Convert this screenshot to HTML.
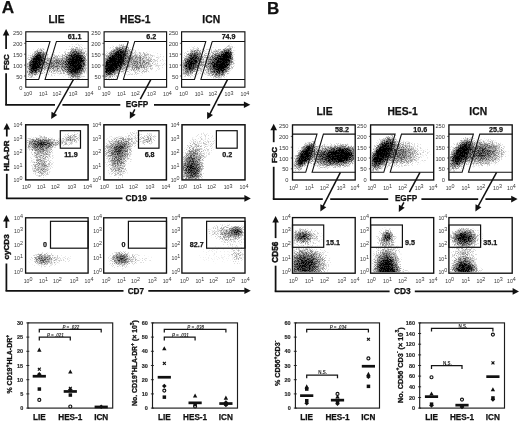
<!DOCTYPE html><html><head><meta charset="utf-8"><title>Figure</title><style>html,body{margin:0;padding:0;background:#fff}svg{display:block}</style></head><body><svg width="520" height="421" viewBox="0 0 520 421" font-family="'Liberation Sans', sans-serif"><defs><filter id="gr" x="0" y="0" width="1" height="1" color-interpolation-filters="sRGB"><feTurbulence type="fractalNoise" baseFrequency="1.37" numOctaves="2" seed="5"/><feColorMatrix type="matrix" values="0 0 0 0 0 0 0 0 0 0 0 0 0 0 0 0 0 0 3 -1" result="n"/><feComposite in="SourceGraphic" in2="n" operator="arithmetic" k1="0" k2="1.3" k3="0.45" k4="-0.45"/><feGaussianBlur stdDeviation="0.3"/></filter><clipPath id="c1"><rect x="26.8" y="32.8" width="60.4" height="53.4"/></clipPath><radialGradient id="g1_0"><stop offset="0" stop-opacity="1"/><stop offset="0.083" stop-opacity="1"/><stop offset="0.167" stop-opacity="1"/><stop offset="0.25" stop-opacity="1"/><stop offset="0.333" stop-opacity="0.977"/><stop offset="0.417" stop-opacity="0.877"/><stop offset="0.5" stop-opacity="0.749"/><stop offset="0.583" stop-opacity="0.593"/><stop offset="0.667" stop-opacity="0.44"/><stop offset="0.75" stop-opacity="0.31"/><stop offset="0.833" stop-opacity="0.212"/><stop offset="0.917" stop-opacity="0.128"/><stop offset="1" stop-opacity="0"/></radialGradient><radialGradient id="g1_1"><stop offset="0" stop-opacity="0.52"/><stop offset="0.083" stop-opacity="0.514"/><stop offset="0.167" stop-opacity="0.495"/><stop offset="0.25" stop-opacity="0.465"/><stop offset="0.333" stop-opacity="0.427"/><stop offset="0.417" stop-opacity="0.381"/><stop offset="0.5" stop-opacity="0.331"/><stop offset="0.583" stop-opacity="0.281"/><stop offset="0.667" stop-opacity="0.233"/><stop offset="0.75" stop-opacity="0.191"/><stop offset="0.833" stop-opacity="0.141"/><stop offset="0.917" stop-opacity="0.107"/><stop offset="1" stop-opacity="0"/></radialGradient><radialGradient id="g1_2"><stop offset="0" stop-opacity="1"/><stop offset="0.083" stop-opacity="1"/><stop offset="0.167" stop-opacity="1"/><stop offset="0.25" stop-opacity="1"/><stop offset="0.333" stop-opacity="1"/><stop offset="0.417" stop-opacity="0.908"/><stop offset="0.5" stop-opacity="0.781"/><stop offset="0.583" stop-opacity="0.621"/><stop offset="0.667" stop-opacity="0.458"/><stop offset="0.75" stop-opacity="0.32"/><stop offset="0.833" stop-opacity="0.216"/><stop offset="0.917" stop-opacity="0.13"/><stop offset="1" stop-opacity="0"/></radialGradient><radialGradient id="g1_3"><stop offset="0" stop-opacity="0.595"/><stop offset="0.083" stop-opacity="0.588"/><stop offset="0.167" stop-opacity="0.565"/><stop offset="0.25" stop-opacity="0.53"/><stop offset="0.333" stop-opacity="0.483"/><stop offset="0.417" stop-opacity="0.428"/><stop offset="0.5" stop-opacity="0.368"/><stop offset="0.583" stop-opacity="0.309"/><stop offset="0.667" stop-opacity="0.251"/><stop offset="0.75" stop-opacity="0.204"/><stop offset="0.833" stop-opacity="0.148"/><stop offset="0.917" stop-opacity="0.109"/><stop offset="1" stop-opacity="0"/></radialGradient><radialGradient id="g1_4"><stop offset="0" stop-opacity="0.56"/><stop offset="0.083" stop-opacity="0.553"/><stop offset="0.167" stop-opacity="0.533"/><stop offset="0.25" stop-opacity="0.5"/><stop offset="0.333" stop-opacity="0.456"/><stop offset="0.417" stop-opacity="0.407"/><stop offset="0.5" stop-opacity="0.351"/><stop offset="0.583" stop-opacity="0.297"/><stop offset="0.667" stop-opacity="0.242"/><stop offset="0.75" stop-opacity="0.2"/><stop offset="0.833" stop-opacity="0.145"/><stop offset="0.917" stop-opacity="0.108"/><stop offset="1" stop-opacity="0"/></radialGradient><clipPath id="c2"><rect x="105.1" y="32.8" width="60.5" height="53.4"/></clipPath><radialGradient id="g2_0"><stop offset="0" stop-opacity="1"/><stop offset="0.083" stop-opacity="1"/><stop offset="0.167" stop-opacity="1"/><stop offset="0.25" stop-opacity="1"/><stop offset="0.333" stop-opacity="1"/><stop offset="0.417" stop-opacity="0.995"/><stop offset="0.5" stop-opacity="0.869"/><stop offset="0.583" stop-opacity="0.699"/><stop offset="0.667" stop-opacity="0.513"/><stop offset="0.75" stop-opacity="0.35"/><stop offset="0.833" stop-opacity="0.229"/><stop offset="0.917" stop-opacity="0.135"/><stop offset="1" stop-opacity="0"/></radialGradient><radialGradient id="g2_1"><stop offset="0" stop-opacity="0.555"/><stop offset="0.083" stop-opacity="0.548"/><stop offset="0.167" stop-opacity="0.528"/><stop offset="0.25" stop-opacity="0.495"/><stop offset="0.333" stop-opacity="0.453"/><stop offset="0.417" stop-opacity="0.404"/><stop offset="0.5" stop-opacity="0.348"/><stop offset="0.583" stop-opacity="0.295"/><stop offset="0.667" stop-opacity="0.241"/><stop offset="0.75" stop-opacity="0.198"/><stop offset="0.833" stop-opacity="0.144"/><stop offset="0.917" stop-opacity="0.108"/><stop offset="1" stop-opacity="0"/></radialGradient><radialGradient id="g2_2"><stop offset="0" stop-opacity="0.454"/><stop offset="0.083" stop-opacity="0.449"/><stop offset="0.167" stop-opacity="0.434"/><stop offset="0.25" stop-opacity="0.41"/><stop offset="0.333" stop-opacity="0.377"/><stop offset="0.417" stop-opacity="0.339"/><stop offset="0.5" stop-opacity="0.299"/><stop offset="0.583" stop-opacity="0.255"/><stop offset="0.667" stop-opacity="0.217"/><stop offset="0.75" stop-opacity="0.176"/><stop offset="0.833" stop-opacity="0.134"/><stop offset="0.917" stop-opacity="0.105"/><stop offset="1" stop-opacity="0"/></radialGradient><radialGradient id="g2_3"><stop offset="0" stop-opacity="0.197"/><stop offset="0.083" stop-opacity="0.196"/><stop offset="0.167" stop-opacity="0.191"/><stop offset="0.25" stop-opacity="0.184"/><stop offset="0.333" stop-opacity="0.174"/><stop offset="0.417" stop-opacity="0.163"/><stop offset="0.5" stop-opacity="0.151"/><stop offset="0.583" stop-opacity="0.138"/><stop offset="0.667" stop-opacity="0.126"/><stop offset="0.75" stop-opacity="0.114"/><stop offset="0.833" stop-opacity="0.103"/><stop offset="0.917" stop-opacity="0.084"/><stop offset="1" stop-opacity="0"/></radialGradient><clipPath id="c3"><rect x="182.6" y="32.8" width="61.3" height="53.4"/></clipPath><radialGradient id="g3_0"><stop offset="0" stop-opacity="0.921"/><stop offset="0.083" stop-opacity="0.909"/><stop offset="0.167" stop-opacity="0.882"/><stop offset="0.25" stop-opacity="0.836"/><stop offset="0.333" stop-opacity="0.764"/><stop offset="0.417" stop-opacity="0.67"/><stop offset="0.5" stop-opacity="0.562"/><stop offset="0.583" stop-opacity="0.45"/><stop offset="0.667" stop-opacity="0.345"/><stop offset="0.75" stop-opacity="0.255"/><stop offset="0.833" stop-opacity="0.185"/><stop offset="0.917" stop-opacity="0.119"/><stop offset="1" stop-opacity="0"/></radialGradient><radialGradient id="g3_1"><stop offset="0" stop-opacity="0.513"/><stop offset="0.083" stop-opacity="0.507"/><stop offset="0.167" stop-opacity="0.488"/><stop offset="0.25" stop-opacity="0.459"/><stop offset="0.333" stop-opacity="0.422"/><stop offset="0.417" stop-opacity="0.376"/><stop offset="0.5" stop-opacity="0.327"/><stop offset="0.583" stop-opacity="0.278"/><stop offset="0.667" stop-opacity="0.231"/><stop offset="0.75" stop-opacity="0.189"/><stop offset="0.833" stop-opacity="0.14"/><stop offset="0.917" stop-opacity="0.107"/><stop offset="1" stop-opacity="0"/></radialGradient><radialGradient id="g3_2"><stop offset="0" stop-opacity="1"/><stop offset="0.083" stop-opacity="1"/><stop offset="0.167" stop-opacity="1"/><stop offset="0.25" stop-opacity="1"/><stop offset="0.333" stop-opacity="0.985"/><stop offset="0.417" stop-opacity="0.886"/><stop offset="0.5" stop-opacity="0.759"/><stop offset="0.583" stop-opacity="0.601"/><stop offset="0.667" stop-opacity="0.445"/><stop offset="0.75" stop-opacity="0.313"/><stop offset="0.833" stop-opacity="0.214"/><stop offset="0.917" stop-opacity="0.129"/><stop offset="1" stop-opacity="0"/></radialGradient><radialGradient id="g3_3"><stop offset="0" stop-opacity="0.885"/><stop offset="0.083" stop-opacity="0.877"/><stop offset="0.167" stop-opacity="0.851"/><stop offset="0.25" stop-opacity="0.8"/><stop offset="0.333" stop-opacity="0.731"/><stop offset="0.417" stop-opacity="0.64"/><stop offset="0.5" stop-opacity="0.537"/><stop offset="0.583" stop-opacity="0.432"/><stop offset="0.667" stop-opacity="0.333"/><stop offset="0.75" stop-opacity="0.249"/><stop offset="0.833" stop-opacity="0.18"/><stop offset="0.917" stop-opacity="0.118"/><stop offset="1" stop-opacity="0"/></radialGradient><radialGradient id="g3_4"><stop offset="0" stop-opacity="0.386"/><stop offset="0.083" stop-opacity="0.382"/><stop offset="0.167" stop-opacity="0.369"/><stop offset="0.25" stop-opacity="0.35"/><stop offset="0.333" stop-opacity="0.325"/><stop offset="0.417" stop-opacity="0.297"/><stop offset="0.5" stop-opacity="0.263"/><stop offset="0.583" stop-opacity="0.23"/><stop offset="0.667" stop-opacity="0.202"/><stop offset="0.75" stop-opacity="0.16"/><stop offset="0.833" stop-opacity="0.127"/><stop offset="0.917" stop-opacity="0.102"/><stop offset="1" stop-opacity="0"/></radialGradient><clipPath id="c4"><rect x="26.7" y="125.8" width="60.4" height="53.1"/></clipPath><radialGradient id="g4_0"><stop offset="0" stop-opacity="0.563"/><stop offset="0.083" stop-opacity="0.556"/><stop offset="0.167" stop-opacity="0.536"/><stop offset="0.25" stop-opacity="0.502"/><stop offset="0.333" stop-opacity="0.459"/><stop offset="0.417" stop-opacity="0.409"/><stop offset="0.5" stop-opacity="0.352"/><stop offset="0.583" stop-opacity="0.298"/><stop offset="0.667" stop-opacity="0.243"/><stop offset="0.75" stop-opacity="0.2"/><stop offset="0.833" stop-opacity="0.145"/><stop offset="0.917" stop-opacity="0.108"/><stop offset="1" stop-opacity="0"/></radialGradient><radialGradient id="g4_1"><stop offset="0" stop-opacity="0.331"/><stop offset="0.083" stop-opacity="0.328"/><stop offset="0.167" stop-opacity="0.319"/><stop offset="0.25" stop-opacity="0.305"/><stop offset="0.333" stop-opacity="0.284"/><stop offset="0.417" stop-opacity="0.26"/><stop offset="0.5" stop-opacity="0.235"/><stop offset="0.583" stop-opacity="0.211"/><stop offset="0.667" stop-opacity="0.181"/><stop offset="0.75" stop-opacity="0.148"/><stop offset="0.833" stop-opacity="0.121"/><stop offset="0.917" stop-opacity="0.1"/><stop offset="1" stop-opacity="0"/></radialGradient><radialGradient id="g4_2"><stop offset="0" stop-opacity="0.292"/><stop offset="0.083" stop-opacity="0.289"/><stop offset="0.167" stop-opacity="0.281"/><stop offset="0.25" stop-opacity="0.269"/><stop offset="0.333" stop-opacity="0.253"/><stop offset="0.417" stop-opacity="0.235"/><stop offset="0.5" stop-opacity="0.216"/><stop offset="0.583" stop-opacity="0.196"/><stop offset="0.667" stop-opacity="0.165"/><stop offset="0.75" stop-opacity="0.138"/><stop offset="0.833" stop-opacity="0.116"/><stop offset="0.917" stop-opacity="0.096"/><stop offset="1" stop-opacity="0"/></radialGradient><radialGradient id="g4_3"><stop offset="0" stop-opacity="0.263"/><stop offset="0.083" stop-opacity="0.261"/><stop offset="0.167" stop-opacity="0.255"/><stop offset="0.25" stop-opacity="0.245"/><stop offset="0.333" stop-opacity="0.233"/><stop offset="0.417" stop-opacity="0.218"/><stop offset="0.5" stop-opacity="0.203"/><stop offset="0.583" stop-opacity="0.179"/><stop offset="0.667" stop-opacity="0.154"/><stop offset="0.75" stop-opacity="0.132"/><stop offset="0.833" stop-opacity="0.113"/><stop offset="0.917" stop-opacity="0.093"/><stop offset="1" stop-opacity="0"/></radialGradient><radialGradient id="g4_4"><stop offset="0" stop-opacity="0.439"/><stop offset="0.083" stop-opacity="0.434"/><stop offset="0.167" stop-opacity="0.42"/><stop offset="0.25" stop-opacity="0.397"/><stop offset="0.333" stop-opacity="0.365"/><stop offset="0.417" stop-opacity="0.329"/><stop offset="0.5" stop-opacity="0.291"/><stop offset="0.583" stop-opacity="0.25"/><stop offset="0.667" stop-opacity="0.214"/><stop offset="0.75" stop-opacity="0.172"/><stop offset="0.833" stop-opacity="0.132"/><stop offset="0.917" stop-opacity="0.104"/><stop offset="1" stop-opacity="0"/></radialGradient><radialGradient id="g4_5"><stop offset="0" stop-opacity="0.242"/><stop offset="0.083" stop-opacity="0.24"/><stop offset="0.167" stop-opacity="0.235"/><stop offset="0.25" stop-opacity="0.228"/><stop offset="0.333" stop-opacity="0.218"/><stop offset="0.417" stop-opacity="0.206"/><stop offset="0.5" stop-opacity="0.189"/><stop offset="0.583" stop-opacity="0.167"/><stop offset="0.667" stop-opacity="0.145"/><stop offset="0.75" stop-opacity="0.126"/><stop offset="0.833" stop-opacity="0.11"/><stop offset="0.917" stop-opacity="0.091"/><stop offset="1" stop-opacity="0"/></radialGradient><clipPath id="c5"><rect x="104.9" y="125.8" width="60.5" height="53.1"/></clipPath><radialGradient id="g5_0"><stop offset="0" stop-opacity="0.591"/><stop offset="0.083" stop-opacity="0.583"/><stop offset="0.167" stop-opacity="0.561"/><stop offset="0.25" stop-opacity="0.526"/><stop offset="0.333" stop-opacity="0.479"/><stop offset="0.417" stop-opacity="0.425"/><stop offset="0.5" stop-opacity="0.366"/><stop offset="0.583" stop-opacity="0.307"/><stop offset="0.667" stop-opacity="0.25"/><stop offset="0.75" stop-opacity="0.204"/><stop offset="0.833" stop-opacity="0.148"/><stop offset="0.917" stop-opacity="0.109"/><stop offset="1" stop-opacity="0"/></radialGradient><radialGradient id="g5_1"><stop offset="0" stop-opacity="0.362"/><stop offset="0.083" stop-opacity="0.359"/><stop offset="0.167" stop-opacity="0.348"/><stop offset="0.25" stop-opacity="0.331"/><stop offset="0.333" stop-opacity="0.309"/><stop offset="0.417" stop-opacity="0.281"/><stop offset="0.5" stop-opacity="0.251"/><stop offset="0.583" stop-opacity="0.222"/><stop offset="0.667" stop-opacity="0.194"/><stop offset="0.75" stop-opacity="0.155"/><stop offset="0.833" stop-opacity="0.124"/><stop offset="0.917" stop-opacity="0.101"/><stop offset="1" stop-opacity="0"/></radialGradient><radialGradient id="g5_2"><stop offset="0" stop-opacity="0.284"/><stop offset="0.083" stop-opacity="0.282"/><stop offset="0.167" stop-opacity="0.274"/><stop offset="0.25" stop-opacity="0.263"/><stop offset="0.333" stop-opacity="0.248"/><stop offset="0.417" stop-opacity="0.231"/><stop offset="0.5" stop-opacity="0.213"/><stop offset="0.583" stop-opacity="0.191"/><stop offset="0.667" stop-opacity="0.162"/><stop offset="0.75" stop-opacity="0.137"/><stop offset="0.833" stop-opacity="0.115"/><stop offset="0.917" stop-opacity="0.096"/><stop offset="1" stop-opacity="0"/></radialGradient><radialGradient id="g5_3"><stop offset="0" stop-opacity="0.389"/><stop offset="0.083" stop-opacity="0.384"/><stop offset="0.167" stop-opacity="0.372"/><stop offset="0.25" stop-opacity="0.352"/><stop offset="0.333" stop-opacity="0.327"/><stop offset="0.417" stop-opacity="0.299"/><stop offset="0.5" stop-opacity="0.264"/><stop offset="0.583" stop-opacity="0.231"/><stop offset="0.667" stop-opacity="0.202"/><stop offset="0.75" stop-opacity="0.161"/><stop offset="0.833" stop-opacity="0.127"/><stop offset="0.917" stop-opacity="0.102"/><stop offset="1" stop-opacity="0"/></radialGradient><radialGradient id="g5_4"><stop offset="0" stop-opacity="0.251"/><stop offset="0.083" stop-opacity="0.249"/><stop offset="0.167" stop-opacity="0.244"/><stop offset="0.25" stop-opacity="0.236"/><stop offset="0.333" stop-opacity="0.224"/><stop offset="0.417" stop-opacity="0.212"/><stop offset="0.5" stop-opacity="0.197"/><stop offset="0.583" stop-opacity="0.172"/><stop offset="0.667" stop-opacity="0.149"/><stop offset="0.75" stop-opacity="0.129"/><stop offset="0.833" stop-opacity="0.111"/><stop offset="0.917" stop-opacity="0.092"/><stop offset="1" stop-opacity="0"/></radialGradient><clipPath id="c6"><rect x="183" y="125.8" width="61" height="53.1"/></clipPath><radialGradient id="g6_0"><stop offset="0" stop-opacity="0.695"/><stop offset="0.083" stop-opacity="0.686"/><stop offset="0.167" stop-opacity="0.661"/><stop offset="0.25" stop-opacity="0.618"/><stop offset="0.333" stop-opacity="0.561"/><stop offset="0.417" stop-opacity="0.493"/><stop offset="0.5" stop-opacity="0.42"/><stop offset="0.583" stop-opacity="0.346"/><stop offset="0.667" stop-opacity="0.277"/><stop offset="0.75" stop-opacity="0.217"/><stop offset="0.833" stop-opacity="0.158"/><stop offset="0.917" stop-opacity="0.112"/><stop offset="1" stop-opacity="0"/></radialGradient><radialGradient id="g6_1"><stop offset="0" stop-opacity="0.321"/><stop offset="0.083" stop-opacity="0.318"/><stop offset="0.167" stop-opacity="0.309"/><stop offset="0.25" stop-opacity="0.296"/><stop offset="0.333" stop-opacity="0.276"/><stop offset="0.417" stop-opacity="0.254"/><stop offset="0.5" stop-opacity="0.23"/><stop offset="0.583" stop-opacity="0.208"/><stop offset="0.667" stop-opacity="0.177"/><stop offset="0.75" stop-opacity="0.145"/><stop offset="0.833" stop-opacity="0.119"/><stop offset="0.917" stop-opacity="0.099"/><stop offset="1" stop-opacity="0"/></radialGradient><radialGradient id="g6_2"><stop offset="0" stop-opacity="0.209"/><stop offset="0.083" stop-opacity="0.208"/><stop offset="0.167" stop-opacity="0.205"/><stop offset="0.25" stop-opacity="0.2"/><stop offset="0.333" stop-opacity="0.189"/><stop offset="0.417" stop-opacity="0.175"/><stop offset="0.5" stop-opacity="0.161"/><stop offset="0.583" stop-opacity="0.146"/><stop offset="0.667" stop-opacity="0.131"/><stop offset="0.75" stop-opacity="0.117"/><stop offset="0.833" stop-opacity="0.105"/><stop offset="0.917" stop-opacity="0.086"/><stop offset="1" stop-opacity="0"/></radialGradient><radialGradient id="g6_3"><stop offset="0" stop-opacity="0.264"/><stop offset="0.083" stop-opacity="0.262"/><stop offset="0.167" stop-opacity="0.256"/><stop offset="0.25" stop-opacity="0.246"/><stop offset="0.333" stop-opacity="0.234"/><stop offset="0.417" stop-opacity="0.219"/><stop offset="0.5" stop-opacity="0.204"/><stop offset="0.583" stop-opacity="0.18"/><stop offset="0.667" stop-opacity="0.155"/><stop offset="0.75" stop-opacity="0.132"/><stop offset="0.833" stop-opacity="0.113"/><stop offset="0.917" stop-opacity="0.093"/><stop offset="1" stop-opacity="0"/></radialGradient><clipPath id="c7"><rect x="26.6" y="218.8" width="60.5" height="53.3"/></clipPath><radialGradient id="g7_0"><stop offset="0" stop-opacity="0.439"/><stop offset="0.083" stop-opacity="0.434"/><stop offset="0.167" stop-opacity="0.42"/><stop offset="0.25" stop-opacity="0.397"/><stop offset="0.333" stop-opacity="0.365"/><stop offset="0.417" stop-opacity="0.329"/><stop offset="0.5" stop-opacity="0.291"/><stop offset="0.583" stop-opacity="0.25"/><stop offset="0.667" stop-opacity="0.214"/><stop offset="0.75" stop-opacity="0.172"/><stop offset="0.833" stop-opacity="0.132"/><stop offset="0.917" stop-opacity="0.104"/><stop offset="1" stop-opacity="0"/></radialGradient><radialGradient id="g7_1"><stop offset="0" stop-opacity="0.262"/><stop offset="0.083" stop-opacity="0.26"/><stop offset="0.167" stop-opacity="0.254"/><stop offset="0.25" stop-opacity="0.244"/><stop offset="0.333" stop-opacity="0.232"/><stop offset="0.417" stop-opacity="0.218"/><stop offset="0.5" stop-opacity="0.203"/><stop offset="0.583" stop-opacity="0.178"/><stop offset="0.667" stop-opacity="0.154"/><stop offset="0.75" stop-opacity="0.131"/><stop offset="0.833" stop-opacity="0.112"/><stop offset="0.917" stop-opacity="0.093"/><stop offset="1" stop-opacity="0"/></radialGradient><radialGradient id="g7_2"><stop offset="0" stop-opacity="0.125"/><stop offset="0.083" stop-opacity="0.125"/><stop offset="0.167" stop-opacity="0.123"/><stop offset="0.25" stop-opacity="0.121"/><stop offset="0.333" stop-opacity="0.119"/><stop offset="0.417" stop-opacity="0.115"/><stop offset="0.5" stop-opacity="0.112"/><stop offset="0.583" stop-opacity="0.107"/><stop offset="0.667" stop-opacity="0.103"/><stop offset="0.75" stop-opacity="0.096"/><stop offset="0.833" stop-opacity="0.085"/><stop offset="0.917" stop-opacity="0.075"/><stop offset="1" stop-opacity="0"/></radialGradient><clipPath id="c8"><rect x="104.7" y="218.8" width="60.8" height="53.3"/></clipPath><radialGradient id="g8_0"><stop offset="0" stop-opacity="0.578"/><stop offset="0.083" stop-opacity="0.571"/><stop offset="0.167" stop-opacity="0.549"/><stop offset="0.25" stop-opacity="0.515"/><stop offset="0.333" stop-opacity="0.47"/><stop offset="0.417" stop-opacity="0.418"/><stop offset="0.5" stop-opacity="0.359"/><stop offset="0.583" stop-opacity="0.303"/><stop offset="0.667" stop-opacity="0.247"/><stop offset="0.75" stop-opacity="0.202"/><stop offset="0.833" stop-opacity="0.146"/><stop offset="0.917" stop-opacity="0.108"/><stop offset="1" stop-opacity="0"/></radialGradient><radialGradient id="g8_1"><stop offset="0" stop-opacity="0.329"/><stop offset="0.083" stop-opacity="0.326"/><stop offset="0.167" stop-opacity="0.318"/><stop offset="0.25" stop-opacity="0.304"/><stop offset="0.333" stop-opacity="0.283"/><stop offset="0.417" stop-opacity="0.259"/><stop offset="0.5" stop-opacity="0.235"/><stop offset="0.583" stop-opacity="0.211"/><stop offset="0.667" stop-opacity="0.18"/><stop offset="0.75" stop-opacity="0.147"/><stop offset="0.833" stop-opacity="0.121"/><stop offset="0.917" stop-opacity="0.1"/><stop offset="1" stop-opacity="0"/></radialGradient><radialGradient id="g8_2"><stop offset="0" stop-opacity="0.131"/><stop offset="0.083" stop-opacity="0.131"/><stop offset="0.167" stop-opacity="0.129"/><stop offset="0.25" stop-opacity="0.127"/><stop offset="0.333" stop-opacity="0.124"/><stop offset="0.417" stop-opacity="0.12"/><stop offset="0.5" stop-opacity="0.115"/><stop offset="0.583" stop-opacity="0.11"/><stop offset="0.667" stop-opacity="0.105"/><stop offset="0.75" stop-opacity="0.1"/><stop offset="0.833" stop-opacity="0.088"/><stop offset="0.917" stop-opacity="0.076"/><stop offset="1" stop-opacity="0"/></radialGradient><clipPath id="c9"><rect x="182.9" y="218.8" width="61.1" height="53.3"/></clipPath><radialGradient id="g9_0"><stop offset="0" stop-opacity="0.708"/><stop offset="0.083" stop-opacity="0.699"/><stop offset="0.167" stop-opacity="0.673"/><stop offset="0.25" stop-opacity="0.63"/><stop offset="0.333" stop-opacity="0.572"/><stop offset="0.417" stop-opacity="0.502"/><stop offset="0.5" stop-opacity="0.427"/><stop offset="0.583" stop-opacity="0.351"/><stop offset="0.667" stop-opacity="0.28"/><stop offset="0.75" stop-opacity="0.219"/><stop offset="0.833" stop-opacity="0.159"/><stop offset="0.917" stop-opacity="0.112"/><stop offset="1" stop-opacity="0"/></radialGradient><radialGradient id="g9_1"><stop offset="0" stop-opacity="0.408"/><stop offset="0.083" stop-opacity="0.403"/><stop offset="0.167" stop-opacity="0.39"/><stop offset="0.25" stop-opacity="0.368"/><stop offset="0.333" stop-opacity="0.341"/><stop offset="0.417" stop-opacity="0.31"/><stop offset="0.5" stop-opacity="0.274"/><stop offset="0.583" stop-opacity="0.238"/><stop offset="0.667" stop-opacity="0.206"/><stop offset="0.75" stop-opacity="0.165"/><stop offset="0.833" stop-opacity="0.129"/><stop offset="0.917" stop-opacity="0.103"/><stop offset="1" stop-opacity="0"/></radialGradient><radialGradient id="g9_2"><stop offset="0" stop-opacity="0.216"/><stop offset="0.083" stop-opacity="0.215"/><stop offset="0.167" stop-opacity="0.211"/><stop offset="0.25" stop-opacity="0.206"/><stop offset="0.333" stop-opacity="0.197"/><stop offset="0.417" stop-opacity="0.183"/><stop offset="0.5" stop-opacity="0.166"/><stop offset="0.583" stop-opacity="0.15"/><stop offset="0.667" stop-opacity="0.134"/><stop offset="0.75" stop-opacity="0.119"/><stop offset="0.833" stop-opacity="0.106"/><stop offset="0.917" stop-opacity="0.087"/><stop offset="1" stop-opacity="0"/></radialGradient><radialGradient id="g9_3"><stop offset="0" stop-opacity="0.279"/><stop offset="0.083" stop-opacity="0.277"/><stop offset="0.167" stop-opacity="0.269"/><stop offset="0.25" stop-opacity="0.258"/><stop offset="0.333" stop-opacity="0.244"/><stop offset="0.417" stop-opacity="0.228"/><stop offset="0.5" stop-opacity="0.211"/><stop offset="0.583" stop-opacity="0.188"/><stop offset="0.667" stop-opacity="0.16"/><stop offset="0.75" stop-opacity="0.135"/><stop offset="0.833" stop-opacity="0.115"/><stop offset="0.917" stop-opacity="0.095"/><stop offset="1" stop-opacity="0"/></radialGradient><radialGradient id="g9_4"><stop offset="0" stop-opacity="0.062"/><stop offset="0.083" stop-opacity="0.062"/><stop offset="0.167" stop-opacity="0.061"/><stop offset="0.25" stop-opacity="0.059"/><stop offset="0.333" stop-opacity="0.057"/><stop offset="0.417" stop-opacity="0.055"/><stop offset="0.5" stop-opacity="0.052"/><stop offset="0.583" stop-opacity="0.049"/><stop offset="0.667" stop-opacity="0.046"/><stop offset="0.75" stop-opacity="0.042"/><stop offset="0.833" stop-opacity="0.038"/><stop offset="0.917" stop-opacity="0.035"/><stop offset="1" stop-opacity="0"/></radialGradient><clipPath id="c10"><rect x="293.5" y="125.9" width="60.7" height="53.1"/></clipPath><radialGradient id="g10_0"><stop offset="0" stop-opacity="1"/><stop offset="0.083" stop-opacity="1"/><stop offset="0.167" stop-opacity="1"/><stop offset="0.25" stop-opacity="0.981"/><stop offset="0.333" stop-opacity="0.905"/><stop offset="0.417" stop-opacity="0.811"/><stop offset="0.5" stop-opacity="0.684"/><stop offset="0.583" stop-opacity="0.542"/><stop offset="0.667" stop-opacity="0.407"/><stop offset="0.75" stop-opacity="0.291"/><stop offset="0.833" stop-opacity="0.205"/><stop offset="0.917" stop-opacity="0.125"/><stop offset="1" stop-opacity="0"/></radialGradient><radialGradient id="g10_1"><stop offset="0" stop-opacity="0.409"/><stop offset="0.083" stop-opacity="0.405"/><stop offset="0.167" stop-opacity="0.392"/><stop offset="0.25" stop-opacity="0.37"/><stop offset="0.333" stop-opacity="0.342"/><stop offset="0.417" stop-opacity="0.311"/><stop offset="0.5" stop-opacity="0.275"/><stop offset="0.583" stop-opacity="0.239"/><stop offset="0.667" stop-opacity="0.207"/><stop offset="0.75" stop-opacity="0.165"/><stop offset="0.833" stop-opacity="0.129"/><stop offset="0.917" stop-opacity="0.103"/><stop offset="1" stop-opacity="0"/></radialGradient><radialGradient id="g10_2"><stop offset="0" stop-opacity="1"/><stop offset="0.083" stop-opacity="1"/><stop offset="0.167" stop-opacity="1"/><stop offset="0.25" stop-opacity="1"/><stop offset="0.333" stop-opacity="0.937"/><stop offset="0.417" stop-opacity="0.838"/><stop offset="0.5" stop-opacity="0.709"/><stop offset="0.583" stop-opacity="0.562"/><stop offset="0.667" stop-opacity="0.419"/><stop offset="0.75" stop-opacity="0.299"/><stop offset="0.833" stop-opacity="0.208"/><stop offset="0.917" stop-opacity="0.126"/><stop offset="1" stop-opacity="0"/></radialGradient><radialGradient id="g10_3"><stop offset="0" stop-opacity="0.5"/><stop offset="0.083" stop-opacity="0.494"/><stop offset="0.167" stop-opacity="0.476"/><stop offset="0.25" stop-opacity="0.448"/><stop offset="0.333" stop-opacity="0.412"/><stop offset="0.417" stop-opacity="0.368"/><stop offset="0.5" stop-opacity="0.321"/><stop offset="0.583" stop-opacity="0.273"/><stop offset="0.667" stop-opacity="0.228"/><stop offset="0.75" stop-opacity="0.186"/><stop offset="0.833" stop-opacity="0.139"/><stop offset="0.917" stop-opacity="0.106"/><stop offset="1" stop-opacity="0"/></radialGradient><radialGradient id="g10_4"><stop offset="0" stop-opacity="0.363"/><stop offset="0.083" stop-opacity="0.359"/><stop offset="0.167" stop-opacity="0.348"/><stop offset="0.25" stop-opacity="0.331"/><stop offset="0.333" stop-opacity="0.309"/><stop offset="0.417" stop-opacity="0.282"/><stop offset="0.5" stop-opacity="0.251"/><stop offset="0.583" stop-opacity="0.223"/><stop offset="0.667" stop-opacity="0.194"/><stop offset="0.75" stop-opacity="0.155"/><stop offset="0.833" stop-opacity="0.124"/><stop offset="0.917" stop-opacity="0.101"/><stop offset="1" stop-opacity="0"/></radialGradient><clipPath id="c11"><rect x="371.6" y="125.9" width="61.1" height="53.1"/></clipPath><radialGradient id="g11_0"><stop offset="0" stop-opacity="1"/><stop offset="0.083" stop-opacity="1"/><stop offset="0.167" stop-opacity="1"/><stop offset="0.25" stop-opacity="1"/><stop offset="0.333" stop-opacity="1"/><stop offset="0.417" stop-opacity="0.918"/><stop offset="0.5" stop-opacity="0.789"/><stop offset="0.583" stop-opacity="0.628"/><stop offset="0.667" stop-opacity="0.463"/><stop offset="0.75" stop-opacity="0.323"/><stop offset="0.833" stop-opacity="0.218"/><stop offset="0.917" stop-opacity="0.13"/><stop offset="1" stop-opacity="0"/></radialGradient><radialGradient id="g11_1"><stop offset="0" stop-opacity="0.533"/><stop offset="0.083" stop-opacity="0.526"/><stop offset="0.167" stop-opacity="0.507"/><stop offset="0.25" stop-opacity="0.476"/><stop offset="0.333" stop-opacity="0.436"/><stop offset="0.417" stop-opacity="0.389"/><stop offset="0.5" stop-opacity="0.337"/><stop offset="0.583" stop-opacity="0.286"/><stop offset="0.667" stop-opacity="0.236"/><stop offset="0.75" stop-opacity="0.193"/><stop offset="0.833" stop-opacity="0.142"/><stop offset="0.917" stop-opacity="0.107"/><stop offset="1" stop-opacity="0"/></radialGradient><radialGradient id="g11_2"><stop offset="0" stop-opacity="0.539"/><stop offset="0.083" stop-opacity="0.532"/><stop offset="0.167" stop-opacity="0.513"/><stop offset="0.25" stop-opacity="0.481"/><stop offset="0.333" stop-opacity="0.44"/><stop offset="0.417" stop-opacity="0.393"/><stop offset="0.5" stop-opacity="0.34"/><stop offset="0.583" stop-opacity="0.288"/><stop offset="0.667" stop-opacity="0.237"/><stop offset="0.75" stop-opacity="0.195"/><stop offset="0.833" stop-opacity="0.142"/><stop offset="0.917" stop-opacity="0.107"/><stop offset="1" stop-opacity="0"/></radialGradient><radialGradient id="g11_3"><stop offset="0" stop-opacity="0.251"/><stop offset="0.083" stop-opacity="0.249"/><stop offset="0.167" stop-opacity="0.244"/><stop offset="0.25" stop-opacity="0.235"/><stop offset="0.333" stop-opacity="0.224"/><stop offset="0.417" stop-opacity="0.211"/><stop offset="0.5" stop-opacity="0.196"/><stop offset="0.583" stop-opacity="0.172"/><stop offset="0.667" stop-opacity="0.149"/><stop offset="0.75" stop-opacity="0.129"/><stop offset="0.833" stop-opacity="0.111"/><stop offset="0.917" stop-opacity="0.092"/><stop offset="1" stop-opacity="0"/></radialGradient><clipPath id="c12"><rect x="449.9" y="125.9" width="61.3" height="53.1"/></clipPath><radialGradient id="g12_0"><stop offset="0" stop-opacity="1"/><stop offset="0.083" stop-opacity="1"/><stop offset="0.167" stop-opacity="1"/><stop offset="0.25" stop-opacity="1"/><stop offset="0.333" stop-opacity="0.975"/><stop offset="0.417" stop-opacity="0.875"/><stop offset="0.5" stop-opacity="0.747"/><stop offset="0.583" stop-opacity="0.592"/><stop offset="0.667" stop-opacity="0.439"/><stop offset="0.75" stop-opacity="0.31"/><stop offset="0.833" stop-opacity="0.212"/><stop offset="0.917" stop-opacity="0.128"/><stop offset="1" stop-opacity="0"/></radialGradient><radialGradient id="g12_1"><stop offset="0" stop-opacity="0.449"/><stop offset="0.083" stop-opacity="0.444"/><stop offset="0.167" stop-opacity="0.429"/><stop offset="0.25" stop-opacity="0.406"/><stop offset="0.333" stop-opacity="0.373"/><stop offset="0.417" stop-opacity="0.336"/><stop offset="0.5" stop-opacity="0.297"/><stop offset="0.583" stop-opacity="0.254"/><stop offset="0.667" stop-opacity="0.216"/><stop offset="0.75" stop-opacity="0.175"/><stop offset="0.833" stop-opacity="0.133"/><stop offset="0.917" stop-opacity="0.104"/><stop offset="1" stop-opacity="0"/></radialGradient><radialGradient id="g12_2"><stop offset="0" stop-opacity="0.647"/><stop offset="0.083" stop-opacity="0.638"/><stop offset="0.167" stop-opacity="0.614"/><stop offset="0.25" stop-opacity="0.575"/><stop offset="0.333" stop-opacity="0.522"/><stop offset="0.417" stop-opacity="0.461"/><stop offset="0.5" stop-opacity="0.395"/><stop offset="0.583" stop-opacity="0.327"/><stop offset="0.667" stop-opacity="0.264"/><stop offset="0.75" stop-opacity="0.211"/><stop offset="0.833" stop-opacity="0.153"/><stop offset="0.917" stop-opacity="0.11"/><stop offset="1" stop-opacity="0"/></radialGradient><radialGradient id="g12_3"><stop offset="0" stop-opacity="0.259"/><stop offset="0.083" stop-opacity="0.257"/><stop offset="0.167" stop-opacity="0.251"/><stop offset="0.25" stop-opacity="0.242"/><stop offset="0.333" stop-opacity="0.23"/><stop offset="0.417" stop-opacity="0.216"/><stop offset="0.5" stop-opacity="0.202"/><stop offset="0.583" stop-opacity="0.177"/><stop offset="0.667" stop-opacity="0.153"/><stop offset="0.75" stop-opacity="0.131"/><stop offset="0.833" stop-opacity="0.112"/><stop offset="0.917" stop-opacity="0.093"/><stop offset="1" stop-opacity="0"/></radialGradient><clipPath id="c13"><rect x="293.5" y="218.6" width="60.7" height="53.6"/></clipPath><radialGradient id="g13_0"><stop offset="0" stop-opacity="0.645"/><stop offset="0.083" stop-opacity="0.637"/><stop offset="0.167" stop-opacity="0.612"/><stop offset="0.25" stop-opacity="0.573"/><stop offset="0.333" stop-opacity="0.521"/><stop offset="0.417" stop-opacity="0.459"/><stop offset="0.5" stop-opacity="0.394"/><stop offset="0.583" stop-opacity="0.327"/><stop offset="0.667" stop-opacity="0.263"/><stop offset="0.75" stop-opacity="0.211"/><stop offset="0.833" stop-opacity="0.153"/><stop offset="0.917" stop-opacity="0.11"/><stop offset="1" stop-opacity="0"/></radialGradient><radialGradient id="g13_1"><stop offset="0" stop-opacity="0.356"/><stop offset="0.083" stop-opacity="0.352"/><stop offset="0.167" stop-opacity="0.342"/><stop offset="0.25" stop-opacity="0.325"/><stop offset="0.333" stop-opacity="0.305"/><stop offset="0.417" stop-opacity="0.277"/><stop offset="0.5" stop-opacity="0.248"/><stop offset="0.583" stop-opacity="0.22"/><stop offset="0.667" stop-opacity="0.191"/><stop offset="0.75" stop-opacity="0.153"/><stop offset="0.833" stop-opacity="0.124"/><stop offset="0.917" stop-opacity="0.101"/><stop offset="1" stop-opacity="0"/></radialGradient><radialGradient id="g13_2"><stop offset="0" stop-opacity="0.822"/><stop offset="0.083" stop-opacity="0.812"/><stop offset="0.167" stop-opacity="0.784"/><stop offset="0.25" stop-opacity="0.737"/><stop offset="0.333" stop-opacity="0.669"/><stop offset="0.417" stop-opacity="0.585"/><stop offset="0.5" stop-opacity="0.493"/><stop offset="0.583" stop-opacity="0.401"/><stop offset="0.667" stop-opacity="0.313"/><stop offset="0.75" stop-opacity="0.237"/><stop offset="0.833" stop-opacity="0.172"/><stop offset="0.917" stop-opacity="0.116"/><stop offset="1" stop-opacity="0"/></radialGradient><radialGradient id="g13_3"><stop offset="0" stop-opacity="0.356"/><stop offset="0.083" stop-opacity="0.352"/><stop offset="0.167" stop-opacity="0.342"/><stop offset="0.25" stop-opacity="0.325"/><stop offset="0.333" stop-opacity="0.305"/><stop offset="0.417" stop-opacity="0.277"/><stop offset="0.5" stop-opacity="0.248"/><stop offset="0.583" stop-opacity="0.22"/><stop offset="0.667" stop-opacity="0.191"/><stop offset="0.75" stop-opacity="0.153"/><stop offset="0.833" stop-opacity="0.124"/><stop offset="0.917" stop-opacity="0.101"/><stop offset="1" stop-opacity="0"/></radialGradient><clipPath id="c14"><rect x="371.6" y="218.6" width="61.1" height="53.6"/></clipPath><radialGradient id="g14_0"><stop offset="0" stop-opacity="0.684"/><stop offset="0.083" stop-opacity="0.675"/><stop offset="0.167" stop-opacity="0.65"/><stop offset="0.25" stop-opacity="0.608"/><stop offset="0.333" stop-opacity="0.552"/><stop offset="0.417" stop-opacity="0.485"/><stop offset="0.5" stop-opacity="0.415"/><stop offset="0.583" stop-opacity="0.341"/><stop offset="0.667" stop-opacity="0.274"/><stop offset="0.75" stop-opacity="0.216"/><stop offset="0.833" stop-opacity="0.157"/><stop offset="0.917" stop-opacity="0.112"/><stop offset="1" stop-opacity="0"/></radialGradient><radialGradient id="g14_1"><stop offset="0" stop-opacity="0.388"/><stop offset="0.083" stop-opacity="0.384"/><stop offset="0.167" stop-opacity="0.371"/><stop offset="0.25" stop-opacity="0.352"/><stop offset="0.333" stop-opacity="0.327"/><stop offset="0.417" stop-opacity="0.299"/><stop offset="0.5" stop-opacity="0.264"/><stop offset="0.583" stop-opacity="0.231"/><stop offset="0.667" stop-opacity="0.202"/><stop offset="0.75" stop-opacity="0.161"/><stop offset="0.833" stop-opacity="0.127"/><stop offset="0.917" stop-opacity="0.102"/><stop offset="1" stop-opacity="0"/></radialGradient><radialGradient id="g14_2"><stop offset="0" stop-opacity="0.98"/><stop offset="0.083" stop-opacity="0.972"/><stop offset="0.167" stop-opacity="0.944"/><stop offset="0.25" stop-opacity="0.89"/><stop offset="0.333" stop-opacity="0.822"/><stop offset="0.417" stop-opacity="0.725"/><stop offset="0.5" stop-opacity="0.607"/><stop offset="0.583" stop-opacity="0.483"/><stop offset="0.667" stop-opacity="0.368"/><stop offset="0.75" stop-opacity="0.268"/><stop offset="0.833" stop-opacity="0.194"/><stop offset="0.917" stop-opacity="0.121"/><stop offset="1" stop-opacity="0"/></radialGradient><radialGradient id="g14_3"><stop offset="0" stop-opacity="0.441"/><stop offset="0.083" stop-opacity="0.436"/><stop offset="0.167" stop-opacity="0.422"/><stop offset="0.25" stop-opacity="0.399"/><stop offset="0.333" stop-opacity="0.367"/><stop offset="0.417" stop-opacity="0.331"/><stop offset="0.5" stop-opacity="0.293"/><stop offset="0.583" stop-opacity="0.251"/><stop offset="0.667" stop-opacity="0.214"/><stop offset="0.75" stop-opacity="0.173"/><stop offset="0.833" stop-opacity="0.133"/><stop offset="0.917" stop-opacity="0.104"/><stop offset="1" stop-opacity="0"/></radialGradient><radialGradient id="g14_4"><stop offset="0" stop-opacity="0.5"/><stop offset="0.083" stop-opacity="0.494"/><stop offset="0.167" stop-opacity="0.476"/><stop offset="0.25" stop-opacity="0.448"/><stop offset="0.333" stop-opacity="0.412"/><stop offset="0.417" stop-opacity="0.368"/><stop offset="0.5" stop-opacity="0.321"/><stop offset="0.583" stop-opacity="0.273"/><stop offset="0.667" stop-opacity="0.228"/><stop offset="0.75" stop-opacity="0.186"/><stop offset="0.833" stop-opacity="0.139"/><stop offset="0.917" stop-opacity="0.106"/><stop offset="1" stop-opacity="0"/></radialGradient><clipPath id="c15"><rect x="449.9" y="218.6" width="61.3" height="53.6"/></clipPath><radialGradient id="g15_0"><stop offset="0" stop-opacity="0.9"/><stop offset="0.083" stop-opacity="0.893"/><stop offset="0.167" stop-opacity="0.868"/><stop offset="0.25" stop-opacity="0.819"/><stop offset="0.333" stop-opacity="0.748"/><stop offset="0.417" stop-opacity="0.656"/><stop offset="0.5" stop-opacity="0.55"/><stop offset="0.583" stop-opacity="0.441"/><stop offset="0.667" stop-opacity="0.339"/><stop offset="0.75" stop-opacity="0.252"/><stop offset="0.833" stop-opacity="0.183"/><stop offset="0.917" stop-opacity="0.119"/><stop offset="1" stop-opacity="0"/></radialGradient><radialGradient id="g15_1"><stop offset="0" stop-opacity="0.352"/><stop offset="0.083" stop-opacity="0.349"/><stop offset="0.167" stop-opacity="0.338"/><stop offset="0.25" stop-opacity="0.322"/><stop offset="0.333" stop-opacity="0.302"/><stop offset="0.417" stop-opacity="0.275"/><stop offset="0.5" stop-opacity="0.246"/><stop offset="0.583" stop-opacity="0.219"/><stop offset="0.667" stop-opacity="0.19"/><stop offset="0.75" stop-opacity="0.153"/><stop offset="0.833" stop-opacity="0.123"/><stop offset="0.917" stop-opacity="0.101"/><stop offset="1" stop-opacity="0"/></radialGradient><radialGradient id="g15_2"><stop offset="0" stop-opacity="0.888"/><stop offset="0.083" stop-opacity="0.88"/><stop offset="0.167" stop-opacity="0.853"/><stop offset="0.25" stop-opacity="0.803"/><stop offset="0.333" stop-opacity="0.733"/><stop offset="0.417" stop-opacity="0.643"/><stop offset="0.5" stop-opacity="0.539"/><stop offset="0.583" stop-opacity="0.433"/><stop offset="0.667" stop-opacity="0.334"/><stop offset="0.75" stop-opacity="0.249"/><stop offset="0.833" stop-opacity="0.181"/><stop offset="0.917" stop-opacity="0.118"/><stop offset="1" stop-opacity="0"/></radialGradient><radialGradient id="g15_3"><stop offset="0" stop-opacity="0.396"/><stop offset="0.083" stop-opacity="0.391"/><stop offset="0.167" stop-opacity="0.378"/><stop offset="0.25" stop-opacity="0.358"/><stop offset="0.333" stop-opacity="0.332"/><stop offset="0.417" stop-opacity="0.303"/><stop offset="0.5" stop-opacity="0.268"/><stop offset="0.583" stop-opacity="0.234"/><stop offset="0.667" stop-opacity="0.204"/><stop offset="0.75" stop-opacity="0.162"/><stop offset="0.833" stop-opacity="0.128"/><stop offset="0.917" stop-opacity="0.103"/><stop offset="1" stop-opacity="0"/></radialGradient><radialGradient id="g15_4"><stop offset="0" stop-opacity="0.356"/><stop offset="0.083" stop-opacity="0.352"/><stop offset="0.167" stop-opacity="0.342"/><stop offset="0.25" stop-opacity="0.325"/><stop offset="0.333" stop-opacity="0.305"/><stop offset="0.417" stop-opacity="0.277"/><stop offset="0.5" stop-opacity="0.248"/><stop offset="0.583" stop-opacity="0.22"/><stop offset="0.667" stop-opacity="0.191"/><stop offset="0.75" stop-opacity="0.153"/><stop offset="0.833" stop-opacity="0.124"/><stop offset="0.917" stop-opacity="0.101"/><stop offset="1" stop-opacity="0"/></radialGradient></defs><text x="1.8" y="13.4" font-size="17.2" font-weight="bold" fill="#111" stroke="#111" stroke-width="0.25">A</text>
<text x="267" y="14.1" font-size="17.0" font-weight="bold" fill="#111" stroke="#111" stroke-width="0.25">B</text>
<text x="56.6" y="23.3" font-size="10.3" font-weight="bold" text-anchor="middle" fill="#111" stroke="#111" stroke-width="0.25">LIE</text>
<text x="135.2" y="23.3" font-size="10.3" font-weight="bold" text-anchor="middle" fill="#111" stroke="#111" stroke-width="0.25">HES-1</text>
<text x="211.2" y="23.3" font-size="10.3" font-weight="bold" text-anchor="middle" fill="#111" stroke="#111" stroke-width="0.25">ICN</text>
<text x="324.6" y="115" font-size="10.3" font-weight="bold" text-anchor="middle" fill="#111" stroke="#111" stroke-width="0.25">LIE</text>
<text x="402.6" y="115" font-size="10.3" font-weight="bold" text-anchor="middle" fill="#111" stroke="#111" stroke-width="0.25">HES-1</text>
<text x="478.2" y="115" font-size="10.3" font-weight="bold" text-anchor="middle" fill="#111" stroke="#111" stroke-width="0.25">ICN</text>
<text x="22.5" y="89.5" font-size="5.7" text-anchor="end" fill="#383838">0</text>
<text x="22.5" y="78.6" font-size="5.7" text-anchor="end" fill="#383838">50</text>
<path d="M24.1 76L25.8 76" stroke="#333" stroke-width="0.8" fill="none"/>
<text x="22.5" y="67.8" font-size="5.7" text-anchor="end" fill="#383838">100</text>
<path d="M24.1 65.1L25.8 65.1" stroke="#333" stroke-width="0.8" fill="none"/>
<text x="22.5" y="56.8" font-size="5.7" text-anchor="end" fill="#383838">150</text>
<path d="M24.1 54.2L25.8 54.2" stroke="#333" stroke-width="0.8" fill="none"/>
<text x="22.5" y="45.9" font-size="5.7" text-anchor="end" fill="#383838">200</text>
<path d="M24.1 43.3L25.8 43.3" stroke="#333" stroke-width="0.8" fill="none"/>
<text x="22.5" y="35" font-size="5.7" text-anchor="end" fill="#383838">250</text>
<text x="23.4" y="96.4" font-size="5.2" fill="#383838">10<tspan dy="-1.7" font-size="5.4">0</tspan></text>
<text x="38.9" y="96.4" font-size="5.2" fill="#383838">10<tspan dy="-1.7" font-size="5.4">1</tspan></text>
<text x="52.6" y="96.4" font-size="5.2" fill="#383838">10<tspan dy="-1.7" font-size="5.4">2</tspan></text>
<text x="68.8" y="96.4" font-size="5.2" fill="#383838">10<tspan dy="-1.7" font-size="5.4">3</tspan></text>
<text x="84.7" y="96.4" font-size="5.2" fill="#383838">10<tspan dy="-1.7" font-size="5.4">4</tspan></text>
<text x="100.8" y="89.5" font-size="5.7" text-anchor="end" fill="#383838">0</text>
<text x="100.8" y="78.6" font-size="5.7" text-anchor="end" fill="#383838">50</text>
<path d="M102.4 76L104.1 76" stroke="#333" stroke-width="0.8" fill="none"/>
<text x="100.8" y="67.8" font-size="5.7" text-anchor="end" fill="#383838">100</text>
<path d="M102.4 65.1L104.1 65.1" stroke="#333" stroke-width="0.8" fill="none"/>
<text x="100.8" y="56.8" font-size="5.7" text-anchor="end" fill="#383838">150</text>
<path d="M102.4 54.2L104.1 54.2" stroke="#333" stroke-width="0.8" fill="none"/>
<text x="100.8" y="45.9" font-size="5.7" text-anchor="end" fill="#383838">200</text>
<path d="M102.4 43.3L104.1 43.3" stroke="#333" stroke-width="0.8" fill="none"/>
<text x="100.8" y="35" font-size="5.7" text-anchor="end" fill="#383838">250</text>
<text x="101.7" y="96.4" font-size="5.2" fill="#383838">10<tspan dy="-1.7" font-size="5.4">0</tspan></text>
<text x="117.2" y="96.4" font-size="5.2" fill="#383838">10<tspan dy="-1.7" font-size="5.4">1</tspan></text>
<text x="130.9" y="96.4" font-size="5.2" fill="#383838">10<tspan dy="-1.7" font-size="5.4">2</tspan></text>
<text x="147.1" y="96.4" font-size="5.2" fill="#383838">10<tspan dy="-1.7" font-size="5.4">3</tspan></text>
<text x="163" y="96.4" font-size="5.2" fill="#383838">10<tspan dy="-1.7" font-size="5.4">4</tspan></text>
<text x="178.3" y="89.5" font-size="5.7" text-anchor="end" fill="#383838">0</text>
<text x="178.3" y="78.6" font-size="5.7" text-anchor="end" fill="#383838">50</text>
<path d="M179.9 76L181.6 76" stroke="#333" stroke-width="0.8" fill="none"/>
<text x="178.3" y="67.8" font-size="5.7" text-anchor="end" fill="#383838">100</text>
<path d="M179.9 65.1L181.6 65.1" stroke="#333" stroke-width="0.8" fill="none"/>
<text x="178.3" y="56.8" font-size="5.7" text-anchor="end" fill="#383838">150</text>
<path d="M179.9 54.2L181.6 54.2" stroke="#333" stroke-width="0.8" fill="none"/>
<text x="178.3" y="45.9" font-size="5.7" text-anchor="end" fill="#383838">200</text>
<path d="M179.9 43.3L181.6 43.3" stroke="#333" stroke-width="0.8" fill="none"/>
<text x="178.3" y="35" font-size="5.7" text-anchor="end" fill="#383838">250</text>
<text x="179.2" y="96.4" font-size="5.2" fill="#383838">10<tspan dy="-1.7" font-size="5.4">0</tspan></text>
<text x="194.7" y="96.4" font-size="5.2" fill="#383838">10<tspan dy="-1.7" font-size="5.4">1</tspan></text>
<text x="208.4" y="96.4" font-size="5.2" fill="#383838">10<tspan dy="-1.7" font-size="5.4">2</tspan></text>
<text x="224.6" y="96.4" font-size="5.2" fill="#383838">10<tspan dy="-1.7" font-size="5.4">3</tspan></text>
<text x="240.5" y="96.4" font-size="5.2" fill="#383838">10<tspan dy="-1.7" font-size="5.4">4</tspan></text>
<g clip-path="url(#c1)"><g filter="url(#gr)">
<rect x="20.8" y="26.8" width="72.4" height="65.4" fill="#000" fill-opacity="0"/>
<ellipse cx="36.3" cy="63" rx="8" ry="17.4" fill="url(#g1_0)" transform="rotate(25.8 36.3 63)"/>
<ellipse cx="36.5" cy="63" rx="11.4" ry="16.9" fill="url(#g1_1)" transform="rotate(22.9 36.5 63)"/>
<ellipse cx="75.8" cy="63.5" rx="11.6" ry="17.6" fill="url(#g1_2)" transform="rotate(5.7 75.8 63.5)"/>
<ellipse cx="76" cy="62.5" rx="15.5" ry="19.8" fill="url(#g1_3)" transform="rotate(5.7 76 62.5)"/>
<ellipse cx="57" cy="64.5" rx="30.5" ry="12.8" fill="url(#g1_4)"/>
</g></g>
<rect x="25.8" y="31.8" width="62.4" height="55.4" fill="none" stroke="#111" stroke-width="1.15"/>
<path d="M25.8 41.5L50 41.5L38.7 79.4L25.8 79.4" stroke="#111" stroke-width="1.05" fill="none"/>
<path d="M88.2 41.5L56.4 41.5L45.1 79.4L88.2 79.4" stroke="#111" stroke-width="1.05" fill="none"/>
<text x="74.6" y="38.8" font-size="7.15" font-weight="bold" text-anchor="middle" fill="#111" stroke="#111" stroke-width="0.25">61.1</text>
<g clip-path="url(#c2)"><g filter="url(#gr)">
<rect x="99.1" y="26.8" width="72.5" height="65.4" fill="#000" fill-opacity="0"/>
<ellipse cx="114.5" cy="62" rx="10.9" ry="23.6" fill="url(#g2_0)" transform="rotate(40.1 114.5 62)"/>
<ellipse cx="115" cy="62" rx="15.2" ry="20.8" fill="url(#g2_1)" transform="rotate(34.4 115 62)"/>
<ellipse cx="134" cy="62.5" rx="20.9" ry="14.4" fill="url(#g2_2)"/>
<ellipse cx="148" cy="62" rx="20.1" ry="11" fill="url(#g2_3)"/>
</g></g>
<rect x="104.1" y="31.8" width="62.5" height="55.4" fill="none" stroke="#111" stroke-width="1.15"/>
<path d="M104.1 41.5L128.3 41.5L117 79.4L104.1 79.4" stroke="#111" stroke-width="1.05" fill="none"/>
<path d="M166.6 41.5L134.7 41.5L123.4 79.4L166.6 79.4" stroke="#111" stroke-width="1.05" fill="none"/>
<text x="151.3" y="38.8" font-size="7.15" font-weight="bold" text-anchor="middle" fill="#111" stroke="#111" stroke-width="0.25">6.2</text>
<g clip-path="url(#c3)"><g filter="url(#gr)">
<rect x="176.6" y="26.8" width="73.3" height="65.4" fill="#000" fill-opacity="0"/>
<ellipse cx="191.5" cy="62.5" rx="9" ry="17" fill="url(#g3_0)" transform="rotate(28.6 191.5 62.5)"/>
<ellipse cx="193" cy="62" rx="13.5" ry="17.6" fill="url(#g3_1)" transform="rotate(28.6 193 62)"/>
<ellipse cx="224.5" cy="60.5" rx="8.4" ry="19.2" fill="url(#g3_2)" transform="rotate(25.8 224.5 60.5)"/>
<ellipse cx="219.5" cy="64" rx="14.6" ry="17.4" fill="url(#g3_3)" transform="rotate(34.4 219.5 64)"/>
<ellipse cx="214" cy="63" rx="22.3" ry="16.1" fill="url(#g3_4)"/>
</g></g>
<rect x="181.6" y="31.8" width="63.3" height="55.4" fill="none" stroke="#111" stroke-width="1.15"/>
<path d="M181.6 41.5L205.8 41.5L194.5 79.4L181.6 79.4" stroke="#111" stroke-width="1.05" fill="none"/>
<path d="M244.9 41.5L212.2 41.5L200.9 79.4L244.9 79.4" stroke="#111" stroke-width="1.05" fill="none"/>
<text x="228.6" y="38.8" font-size="7.15" font-weight="bold" text-anchor="middle" fill="#111" stroke="#111" stroke-width="0.25">74.9</text>
<path d="M6.1 104.8L6.1 73.3" stroke="#111" stroke-width="1.75" fill="none"/>
<path d="M6.1 49L6.1 35" stroke="#111" stroke-width="1.75" fill="none"/>
<path d="M6.1 29.1L9.4 35.5L2.8 35.5Z" stroke="#111" stroke-width="0" fill="#111"/>
<text x="0" y="0" font-size="7.8" font-weight="bold" text-anchor="middle" fill="#111" transform="translate(8.8 62.2) rotate(-90)" stroke="#111" stroke-width="0.45">FSC</text>
<path d="M5.2 104.8L55 104.8" stroke="#111" stroke-width="1.75" fill="none"/>
<path d="M62.4 104.8L120.3 104.8" stroke="#111" stroke-width="1.75" fill="none"/>
<text x="125.8" y="107.2" font-size="8.2" font-weight="bold" fill="#111" stroke="#111" stroke-width="0.25">EGFP</text>
<path d="M154 104.8L210.2 104.8" stroke="#111" stroke-width="1.75" fill="none"/>
<path d="M217.5 104.8L244.4 104.8" stroke="#111" stroke-width="1.75" fill="none"/>
<path d="M250.3 104.8L243.9 108.1L243.9 101.5Z" stroke="#111" stroke-width="0" fill="#111"/>
<path d="M73.5 79.4L54.1 113.9" stroke="#111" stroke-width="1.5" fill="none"/>
<path d="M51.2 119L51.5 111.8L57.2 115Z" stroke="#111" stroke-width="0" fill="#111"/>
<path d="M150.8 79.7L140.3 99.2" stroke="#111" stroke-width="1.5" fill="none"/>
<path d="M134.8 109.4L132.6 113.6" stroke="#111" stroke-width="1.5" fill="none"/>
<path d="M129.8 118.8L129.9 111.6L135.7 114.7Z" stroke="#111" stroke-width="0" fill="#111"/>
<path d="M227.6 79.4L209.8 114.1" stroke="#111" stroke-width="1.5" fill="none"/>
<path d="M207.1 119.3L207.1 112.1L213 115.1Z" stroke="#111" stroke-width="0" fill="#111"/>
<text x="13.6" y="181.6" font-size="5.2" fill="#383838">10<tspan dy="-1.7" font-size="5.4">0</tspan></text>
<text x="13.6" y="168.7" font-size="5.2" fill="#383838">10<tspan dy="-1.7" font-size="5.4">1</tspan></text>
<text x="13.6" y="154.5" font-size="5.2" fill="#383838">10<tspan dy="-1.7" font-size="5.4">2</tspan></text>
<text x="13.6" y="140.8" font-size="5.2" fill="#383838">10<tspan dy="-1.7" font-size="5.4">3</tspan></text>
<text x="13.6" y="127.4" font-size="5.2" fill="#383838">10<tspan dy="-1.7" font-size="5.4">4</tspan></text>
<text x="21.9" y="189.4" font-size="5.2" fill="#383838">10<tspan dy="-1.7" font-size="5.4">0</tspan></text>
<text x="37" y="189.4" font-size="5.2" fill="#383838">10<tspan dy="-1.7" font-size="5.4">1</tspan></text>
<text x="50.9" y="189.4" font-size="5.2" fill="#383838">10<tspan dy="-1.7" font-size="5.4">2</tspan></text>
<text x="67.4" y="189.4" font-size="5.2" fill="#383838">10<tspan dy="-1.7" font-size="5.4">3</tspan></text>
<text x="83.3" y="189.4" font-size="5.2" fill="#383838">10<tspan dy="-1.7" font-size="5.4">4</tspan></text>
<g clip-path="url(#c4)"><g filter="url(#gr)">
<rect x="20.7" y="119.8" width="72.4" height="65.1" fill="#000" fill-opacity="0"/>
<ellipse cx="39.5" cy="143.5" rx="22.2" ry="7.8" fill="url(#g4_0)"/>
<ellipse cx="41" cy="147" rx="13" ry="13" fill="url(#g4_1)"/>
<ellipse cx="42" cy="160" rx="12.3" ry="20.2" fill="url(#g4_2)"/>
<ellipse cx="41" cy="168" rx="9.7" ry="9.7" fill="url(#g4_3)"/>
<ellipse cx="70.5" cy="139" rx="11.6" ry="6.7" fill="url(#g4_4)" transform="rotate(-17.2 70.5 139)"/>
<ellipse cx="55" cy="143" rx="12.4" ry="5.2" fill="url(#g4_5)"/>
</g></g>
<rect x="25.7" y="124.8" width="62.4" height="55.1" fill="none" stroke="#111" stroke-width="1.5"/>
<rect x="60.3" y="130.7" width="20.2" height="17.5" fill="none" stroke="#111" stroke-width="1.2"/>
<text x="71" y="157.4" font-size="7.15" font-weight="bold" text-anchor="middle" fill="#111" stroke="#111" stroke-width="0.25">11.9</text>
<text x="92.4" y="181.6" font-size="5.2" fill="#383838">10<tspan dy="-1.7" font-size="5.4">0</tspan></text>
<text x="92.4" y="168.7" font-size="5.2" fill="#383838">10<tspan dy="-1.7" font-size="5.4">1</tspan></text>
<text x="92.4" y="154.5" font-size="5.2" fill="#383838">10<tspan dy="-1.7" font-size="5.4">2</tspan></text>
<text x="92.4" y="140.8" font-size="5.2" fill="#383838">10<tspan dy="-1.7" font-size="5.4">3</tspan></text>
<text x="92.4" y="127.4" font-size="5.2" fill="#383838">10<tspan dy="-1.7" font-size="5.4">4</tspan></text>
<text x="100.1" y="189.4" font-size="5.2" fill="#383838">10<tspan dy="-1.7" font-size="5.4">0</tspan></text>
<text x="115.2" y="189.4" font-size="5.2" fill="#383838">10<tspan dy="-1.7" font-size="5.4">1</tspan></text>
<text x="129.1" y="189.4" font-size="5.2" fill="#383838">10<tspan dy="-1.7" font-size="5.4">2</tspan></text>
<text x="145.6" y="189.4" font-size="5.2" fill="#383838">10<tspan dy="-1.7" font-size="5.4">3</tspan></text>
<text x="161.5" y="189.4" font-size="5.2" fill="#383838">10<tspan dy="-1.7" font-size="5.4">4</tspan></text>
<g clip-path="url(#c5)"><g filter="url(#gr)">
<rect x="98.9" y="119.8" width="72.5" height="65.1" fill="#000" fill-opacity="0"/>
<ellipse cx="118.5" cy="151" rx="14.1" ry="14.6" fill="url(#g5_0)"/>
<ellipse cx="118" cy="168.5" rx="10.9" ry="12.2" fill="url(#g5_1)"/>
<ellipse cx="129" cy="141.5" rx="17.8" ry="8.4" fill="url(#g5_2)" transform="rotate(-34.4 129 141.5)"/>
<ellipse cx="148" cy="139" rx="9.9" ry="6.5" fill="url(#g5_3)" transform="rotate(-17.2 148 139)"/>
<ellipse cx="117" cy="153" rx="16.9" ry="19" fill="url(#g5_4)"/>
</g></g>
<rect x="103.9" y="124.8" width="62.5" height="55.1" fill="none" stroke="#111" stroke-width="1.5"/>
<rect x="138.5" y="130.7" width="20.5" height="17.5" fill="none" stroke="#111" stroke-width="1.2"/>
<text x="149.6" y="157.4" font-size="7.15" font-weight="bold" text-anchor="middle" fill="#111" stroke="#111" stroke-width="0.25">6.8</text>
<text x="170.7" y="181.6" font-size="5.2" fill="#383838">10<tspan dy="-1.7" font-size="5.4">0</tspan></text>
<text x="170.7" y="168.7" font-size="5.2" fill="#383838">10<tspan dy="-1.7" font-size="5.4">1</tspan></text>
<text x="170.7" y="154.5" font-size="5.2" fill="#383838">10<tspan dy="-1.7" font-size="5.4">2</tspan></text>
<text x="170.7" y="140.8" font-size="5.2" fill="#383838">10<tspan dy="-1.7" font-size="5.4">3</tspan></text>
<text x="170.7" y="127.4" font-size="5.2" fill="#383838">10<tspan dy="-1.7" font-size="5.4">4</tspan></text>
<text x="178.2" y="189.4" font-size="5.2" fill="#383838">10<tspan dy="-1.7" font-size="5.4">0</tspan></text>
<text x="193.3" y="189.4" font-size="5.2" fill="#383838">10<tspan dy="-1.7" font-size="5.4">1</tspan></text>
<text x="207.2" y="189.4" font-size="5.2" fill="#383838">10<tspan dy="-1.7" font-size="5.4">2</tspan></text>
<text x="223.7" y="189.4" font-size="5.2" fill="#383838">10<tspan dy="-1.7" font-size="5.4">3</tspan></text>
<text x="239.6" y="189.4" font-size="5.2" fill="#383838">10<tspan dy="-1.7" font-size="5.4">4</tspan></text>
<g clip-path="url(#c6)"><g filter="url(#gr)">
<rect x="177" y="119.8" width="73" height="65.1" fill="#000" fill-opacity="0"/>
<ellipse cx="192" cy="168.5" rx="13.6" ry="19.1" fill="url(#g6_0)"/>
<ellipse cx="193" cy="160" rx="12.1" ry="19.8" fill="url(#g6_1)"/>
<ellipse cx="201" cy="147" rx="17.1" ry="13.3" fill="url(#g6_2)" transform="rotate(-45.8 201 147)"/>
<ellipse cx="190" cy="172" rx="12.9" ry="10.8" fill="url(#g6_3)"/>
</g></g>
<rect x="182" y="124.8" width="63" height="55.1" fill="none" stroke="#111" stroke-width="1.5"/>
<rect x="216.4" y="130.7" width="20.8" height="17.5" fill="none" stroke="#111" stroke-width="1.2"/>
<text x="227.2" y="157.4" font-size="7.15" font-weight="bold" text-anchor="middle" fill="#111" stroke="#111" stroke-width="0.25">0.2</text>
<path d="M6.8 198.4L6.8 173.8" stroke="#111" stroke-width="1.75" fill="none"/>
<path d="M6.8 136.5L6.8 128.9" stroke="#111" stroke-width="1.75" fill="none"/>
<path d="M6.8 123L10.1 129.4L3.5 129.4Z" stroke="#111" stroke-width="0" fill="#111"/>
<text x="0" y="0" font-size="8.0" font-weight="bold" text-anchor="middle" fill="#111" transform="translate(9.2 155.7) rotate(-90)" stroke="#111" stroke-width="0.45">HLA-DR</text>
<path d="M5.9 198.4L122.5 198.4" stroke="#111" stroke-width="1.75" fill="none"/>
<text x="125.6" y="200.8" font-size="8.35" font-weight="bold" fill="#111" stroke="#111" stroke-width="0.25">CD19</text>
<path d="M150.2 198.4L244.9 198.4" stroke="#111" stroke-width="1.75" fill="none"/>
<path d="M250.8 198.4L244.4 201.7L244.4 195.1Z" stroke="#111" stroke-width="0" fill="#111"/>
<text x="14.1" y="274" font-size="5.2" fill="#383838">10<tspan dy="-1.7" font-size="5.4">0</tspan></text>
<text x="14.1" y="259.5" font-size="5.2" fill="#383838">10<tspan dy="-1.7" font-size="5.4">1</tspan></text>
<text x="14.1" y="246.5" font-size="5.2" fill="#383838">10<tspan dy="-1.7" font-size="5.4">2</tspan></text>
<text x="14.1" y="233" font-size="5.2" fill="#383838">10<tspan dy="-1.7" font-size="5.4">3</tspan></text>
<text x="14.1" y="219.9" font-size="5.2" fill="#383838">10<tspan dy="-1.7" font-size="5.4">4</tspan></text>
<text x="23.7" y="282.8" font-size="5.2" fill="#383838">10<tspan dy="-1.7" font-size="5.4">0</tspan></text>
<text x="39.1" y="282.8" font-size="5.2" fill="#383838">10<tspan dy="-1.7" font-size="5.4">1</tspan></text>
<text x="53" y="282.8" font-size="5.2" fill="#383838">10<tspan dy="-1.7" font-size="5.4">2</tspan></text>
<text x="69.8" y="282.8" font-size="5.2" fill="#383838">10<tspan dy="-1.7" font-size="5.4">3</tspan></text>
<text x="84.6" y="282.8" font-size="5.2" fill="#383838">10<tspan dy="-1.7" font-size="5.4">4</tspan></text>
<g clip-path="url(#c7)"><g filter="url(#gr)">
<rect x="20.6" y="212.8" width="72.5" height="65.3" fill="#000" fill-opacity="0"/>
<ellipse cx="42.5" cy="259" rx="9.8" ry="6.7" fill="url(#g7_0)"/>
<ellipse cx="45" cy="260" rx="17.2" ry="8.2" fill="url(#g7_1)"/>
<ellipse cx="58" cy="259" rx="16.2" ry="4.7" fill="url(#g7_2)"/>
</g></g>
<rect x="25.6" y="217.8" width="62.5" height="55.3" fill="none" stroke="#111" stroke-width="1.35"/>
<rect x="50.5" y="221.3" width="37.6" height="26.9" fill="none" stroke="#111" stroke-width="1.2"/>
<text x="45.1" y="247" font-size="7.15" font-weight="bold" text-anchor="middle" fill="#111" stroke="#111" stroke-width="0.25">0</text>
<text x="93.3" y="274" font-size="5.2" fill="#383838">10<tspan dy="-1.7" font-size="5.4">0</tspan></text>
<text x="93.3" y="259.5" font-size="5.2" fill="#383838">10<tspan dy="-1.7" font-size="5.4">1</tspan></text>
<text x="93.3" y="246.5" font-size="5.2" fill="#383838">10<tspan dy="-1.7" font-size="5.4">2</tspan></text>
<text x="93.3" y="233" font-size="5.2" fill="#383838">10<tspan dy="-1.7" font-size="5.4">3</tspan></text>
<text x="93.3" y="219.9" font-size="5.2" fill="#383838">10<tspan dy="-1.7" font-size="5.4">4</tspan></text>
<text x="101.8" y="282.8" font-size="5.2" fill="#383838">10<tspan dy="-1.7" font-size="5.4">0</tspan></text>
<text x="117.2" y="282.8" font-size="5.2" fill="#383838">10<tspan dy="-1.7" font-size="5.4">1</tspan></text>
<text x="131.1" y="282.8" font-size="5.2" fill="#383838">10<tspan dy="-1.7" font-size="5.4">2</tspan></text>
<text x="147.9" y="282.8" font-size="5.2" fill="#383838">10<tspan dy="-1.7" font-size="5.4">3</tspan></text>
<text x="162.7" y="282.8" font-size="5.2" fill="#383838">10<tspan dy="-1.7" font-size="5.4">4</tspan></text>
<g clip-path="url(#c8)"><g filter="url(#gr)">
<rect x="98.7" y="212.8" width="72.8" height="65.3" fill="#000" fill-opacity="0"/>
<ellipse cx="120.6" cy="258.6" rx="9.2" ry="7.3" fill="url(#g8_0)"/>
<ellipse cx="122" cy="260" rx="15.3" ry="9.9" fill="url(#g8_1)"/>
<ellipse cx="137" cy="259" rx="17" ry="5" fill="url(#g8_2)"/>
</g></g>
<rect x="103.7" y="217.8" width="62.8" height="55.3" fill="none" stroke="#111" stroke-width="1.35"/>
<rect x="128.4" y="221.3" width="38.1" height="26.9" fill="none" stroke="#111" stroke-width="1.2"/>
<text x="123.6" y="247" font-size="7.15" font-weight="bold" text-anchor="middle" fill="#111" stroke="#111" stroke-width="0.25">0</text>
<text x="171.5" y="274" font-size="5.2" fill="#383838">10<tspan dy="-1.7" font-size="5.4">0</tspan></text>
<text x="171.5" y="259.5" font-size="5.2" fill="#383838">10<tspan dy="-1.7" font-size="5.4">1</tspan></text>
<text x="171.5" y="246.5" font-size="5.2" fill="#383838">10<tspan dy="-1.7" font-size="5.4">2</tspan></text>
<text x="171.5" y="233" font-size="5.2" fill="#383838">10<tspan dy="-1.7" font-size="5.4">3</tspan></text>
<text x="171.5" y="219.9" font-size="5.2" fill="#383838">10<tspan dy="-1.7" font-size="5.4">4</tspan></text>
<text x="180" y="282.8" font-size="5.2" fill="#383838">10<tspan dy="-1.7" font-size="5.4">0</tspan></text>
<text x="195.4" y="282.8" font-size="5.2" fill="#383838">10<tspan dy="-1.7" font-size="5.4">1</tspan></text>
<text x="209.3" y="282.8" font-size="5.2" fill="#383838">10<tspan dy="-1.7" font-size="5.4">2</tspan></text>
<text x="226.1" y="282.8" font-size="5.2" fill="#383838">10<tspan dy="-1.7" font-size="5.4">3</tspan></text>
<text x="240.9" y="282.8" font-size="5.2" fill="#383838">10<tspan dy="-1.7" font-size="5.4">4</tspan></text>
<g clip-path="url(#c9)"><g filter="url(#gr)">
<rect x="176.9" y="212.8" width="73.1" height="65.3" fill="#000" fill-opacity="0"/>
<ellipse cx="236.8" cy="231.3" rx="8" ry="5.9" fill="url(#g9_0)"/>
<ellipse cx="228.5" cy="232" rx="22.7" ry="8.8" fill="url(#g9_1)"/>
<ellipse cx="232" cy="238" rx="13.6" ry="9.7" fill="url(#g9_2)"/>
<ellipse cx="237.5" cy="255" rx="8.8" ry="9.9" fill="url(#g9_3)"/>
<ellipse cx="215" cy="255" rx="17.7" ry="9.4" fill="url(#g9_4)"/>
</g></g>
<rect x="181.9" y="217.8" width="63.1" height="55.3" fill="none" stroke="#111" stroke-width="1.35"/>
<rect x="206.6" y="221.3" width="38.4" height="26.9" fill="none" stroke="#111" stroke-width="1.2"/>
<text x="196.8" y="247" font-size="7.15" font-weight="bold" text-anchor="middle" fill="#111" stroke="#111" stroke-width="0.25">82.7</text>
<path d="M6.4 290.7L6.4 263.5" stroke="#111" stroke-width="1.75" fill="none"/>
<path d="M6.4 228L6.4 220.9" stroke="#111" stroke-width="1.75" fill="none"/>
<path d="M6.4 215L9.7 221.4L3.1 221.4Z" stroke="#111" stroke-width="0" fill="#111"/>
<text x="0" y="0" font-size="8.1" font-weight="bold" text-anchor="middle" fill="#111" transform="translate(9.1 246.9) rotate(-90)" stroke="#111" stroke-width="0.45">cyCD3</text>
<path d="M5.5 290.8L123.5 290.8" stroke="#111" stroke-width="1.75" fill="none"/>
<text x="127.7" y="293.6" font-size="8.2" font-weight="bold" fill="#111" stroke="#111" stroke-width="0.25">CD7</text>
<path d="M148.3 290.8L244.9 290.8" stroke="#111" stroke-width="1.75" fill="none"/>
<path d="M250.8 290.8L244.4 294.1L244.4 287.5Z" stroke="#111" stroke-width="0" fill="#111"/>
<text x="288.5" y="182.2" font-size="5.7" text-anchor="end" fill="#383838">0</text>
<text x="288.5" y="171.4" font-size="5.7" text-anchor="end" fill="#383838">50</text>
<path d="M290.8 168.8L292.5 168.8" stroke="#333" stroke-width="0.8" fill="none"/>
<text x="288.5" y="160.7" font-size="5.7" text-anchor="end" fill="#383838">100</text>
<path d="M290.8 158L292.5 158" stroke="#333" stroke-width="0.8" fill="none"/>
<text x="288.5" y="149.8" font-size="5.7" text-anchor="end" fill="#383838">150</text>
<path d="M290.8 147.2L292.5 147.2" stroke="#333" stroke-width="0.8" fill="none"/>
<text x="288.5" y="139.1" font-size="5.7" text-anchor="end" fill="#383838">200</text>
<path d="M290.8 136.4L292.5 136.4" stroke="#333" stroke-width="0.8" fill="none"/>
<text x="288.5" y="128.2" font-size="5.7" text-anchor="end" fill="#383838">250</text>
<text x="289.3" y="189.6" font-size="5.2" fill="#383838">10<tspan dy="-1.7" font-size="5.4">0</tspan></text>
<text x="305.1" y="189.6" font-size="5.2" fill="#383838">10<tspan dy="-1.7" font-size="5.4">1</tspan></text>
<text x="320.1" y="189.6" font-size="5.2" fill="#383838">10<tspan dy="-1.7" font-size="5.4">2</tspan></text>
<text x="336.7" y="189.6" font-size="5.2" fill="#383838">10<tspan dy="-1.7" font-size="5.4">3</tspan></text>
<text x="350.6" y="189.6" font-size="5.2" fill="#383838">10<tspan dy="-1.7" font-size="5.4">4</tspan></text>
<text x="366.6" y="182.2" font-size="5.7" text-anchor="end" fill="#383838">0</text>
<text x="366.6" y="171.4" font-size="5.7" text-anchor="end" fill="#383838">50</text>
<path d="M368.9 168.8L370.6 168.8" stroke="#333" stroke-width="0.8" fill="none"/>
<text x="366.6" y="160.7" font-size="5.7" text-anchor="end" fill="#383838">100</text>
<path d="M368.9 158L370.6 158" stroke="#333" stroke-width="0.8" fill="none"/>
<text x="366.6" y="149.8" font-size="5.7" text-anchor="end" fill="#383838">150</text>
<path d="M368.9 147.2L370.6 147.2" stroke="#333" stroke-width="0.8" fill="none"/>
<text x="366.6" y="139.1" font-size="5.7" text-anchor="end" fill="#383838">200</text>
<path d="M368.9 136.4L370.6 136.4" stroke="#333" stroke-width="0.8" fill="none"/>
<text x="366.6" y="128.2" font-size="5.7" text-anchor="end" fill="#383838">250</text>
<text x="367.4" y="189.6" font-size="5.2" fill="#383838">10<tspan dy="-1.7" font-size="5.4">0</tspan></text>
<text x="383.2" y="189.6" font-size="5.2" fill="#383838">10<tspan dy="-1.7" font-size="5.4">1</tspan></text>
<text x="398.2" y="189.6" font-size="5.2" fill="#383838">10<tspan dy="-1.7" font-size="5.4">2</tspan></text>
<text x="414.8" y="189.6" font-size="5.2" fill="#383838">10<tspan dy="-1.7" font-size="5.4">3</tspan></text>
<text x="428.7" y="189.6" font-size="5.2" fill="#383838">10<tspan dy="-1.7" font-size="5.4">4</tspan></text>
<text x="444.9" y="182.2" font-size="5.7" text-anchor="end" fill="#383838">0</text>
<text x="444.9" y="171.4" font-size="5.7" text-anchor="end" fill="#383838">50</text>
<path d="M447.2 168.8L448.9 168.8" stroke="#333" stroke-width="0.8" fill="none"/>
<text x="444.9" y="160.7" font-size="5.7" text-anchor="end" fill="#383838">100</text>
<path d="M447.2 158L448.9 158" stroke="#333" stroke-width="0.8" fill="none"/>
<text x="444.9" y="149.8" font-size="5.7" text-anchor="end" fill="#383838">150</text>
<path d="M447.2 147.2L448.9 147.2" stroke="#333" stroke-width="0.8" fill="none"/>
<text x="444.9" y="139.1" font-size="5.7" text-anchor="end" fill="#383838">200</text>
<path d="M447.2 136.4L448.9 136.4" stroke="#333" stroke-width="0.8" fill="none"/>
<text x="444.9" y="128.2" font-size="5.7" text-anchor="end" fill="#383838">250</text>
<text x="445.7" y="189.6" font-size="5.2" fill="#383838">10<tspan dy="-1.7" font-size="5.4">0</tspan></text>
<text x="461.5" y="189.6" font-size="5.2" fill="#383838">10<tspan dy="-1.7" font-size="5.4">1</tspan></text>
<text x="476.5" y="189.6" font-size="5.2" fill="#383838">10<tspan dy="-1.7" font-size="5.4">2</tspan></text>
<text x="493.1" y="189.6" font-size="5.2" fill="#383838">10<tspan dy="-1.7" font-size="5.4">3</tspan></text>
<text x="507" y="189.6" font-size="5.2" fill="#383838">10<tspan dy="-1.7" font-size="5.4">4</tspan></text>
<g clip-path="url(#c10)"><g filter="url(#gr)">
<rect x="287.5" y="119.9" width="72.7" height="65.1" fill="#000" fill-opacity="0"/>
<ellipse cx="305" cy="155.5" rx="8.1" ry="20.3" fill="url(#g10_0)" transform="rotate(34.4 305 155.5)"/>
<ellipse cx="304.5" cy="156" rx="10.1" ry="16.4" fill="url(#g10_1)" transform="rotate(31.5 304.5 156)"/>
<ellipse cx="340.5" cy="155.5" rx="23.9" ry="13" fill="url(#g10_2)" transform="rotate(-5.7 340.5 155.5)"/>
<ellipse cx="322" cy="157" rx="16.1" ry="13.4" fill="url(#g10_3)"/>
<ellipse cx="333" cy="156" rx="29.2" ry="13.4" fill="url(#g10_4)"/>
</g></g>
<rect x="292.5" y="124.9" width="62.7" height="55.1" fill="none" stroke="#111" stroke-width="1.35"/>
<path d="M292.5 134.1L317 134.1L305.7 172.3L292.5 172.3" stroke="#111" stroke-width="1.1" fill="none"/>
<path d="M355.2 134.1L323.4 134.1L312.1 172.3L355.2 172.3" stroke="#111" stroke-width="1.1" fill="none"/>
<text x="342" y="132" font-size="7.15" font-weight="bold" text-anchor="middle" fill="#111" stroke="#111" stroke-width="0.25">58.2</text>
<g clip-path="url(#c11)"><g filter="url(#gr)">
<rect x="365.6" y="119.9" width="73.1" height="65.1" fill="#000" fill-opacity="0"/>
<ellipse cx="382.5" cy="153" rx="9.9" ry="24" fill="url(#g11_0)" transform="rotate(34.4 382.5 153)"/>
<ellipse cx="381.5" cy="155" rx="13.7" ry="20.5" fill="url(#g11_1)" transform="rotate(28.6 381.5 155)"/>
<ellipse cx="396.5" cy="153.5" rx="22" ry="15.1" fill="url(#g11_2)"/>
<ellipse cx="408" cy="154" rx="23.2" ry="12.6" fill="url(#g11_3)"/>
</g></g>
<rect x="370.6" y="124.9" width="63.1" height="55.1" fill="none" stroke="#111" stroke-width="1.35"/>
<path d="M370.6 134.1L395.1 134.1L383.8 172.3L370.6 172.3" stroke="#111" stroke-width="1.1" fill="none"/>
<path d="M433.7 134.1L401.5 134.1L390.2 172.3L433.7 172.3" stroke="#111" stroke-width="1.1" fill="none"/>
<text x="420.3" y="132" font-size="7.15" font-weight="bold" text-anchor="middle" fill="#111" stroke="#111" stroke-width="0.25">10.6</text>
<g clip-path="url(#c12)"><g filter="url(#gr)">
<rect x="443.9" y="119.9" width="73.3" height="65.1" fill="#000" fill-opacity="0"/>
<ellipse cx="461" cy="153.5" rx="9.4" ry="21.9" fill="url(#g12_0)" transform="rotate(34.4 461 153.5)"/>
<ellipse cx="460" cy="155" rx="13" ry="19.5" fill="url(#g12_1)" transform="rotate(28.6 460 155)"/>
<ellipse cx="480" cy="153" rx="26" ry="15" fill="url(#g12_2)" transform="rotate(-5.7 480 153)"/>
<ellipse cx="486" cy="153" rx="23.5" ry="13.9" fill="url(#g12_3)"/>
</g></g>
<rect x="448.9" y="124.9" width="63.3" height="55.1" fill="none" stroke="#111" stroke-width="1.35"/>
<path d="M448.9 134.1L473.4 134.1L462.1 172.3L448.9 172.3" stroke="#111" stroke-width="1.1" fill="none"/>
<path d="M512.2 134.1L479.8 134.1L468.5 172.3L512.2 172.3" stroke="#111" stroke-width="1.1" fill="none"/>
<text x="496" y="132" font-size="7.15" font-weight="bold" text-anchor="middle" fill="#111" stroke="#111" stroke-width="0.25">25.9</text>
<path d="M273.7 199.1L273.7 166.8" stroke="#111" stroke-width="1.75" fill="none"/>
<path d="M273.7 142.2L273.7 129.7" stroke="#111" stroke-width="1.75" fill="none"/>
<path d="M273.7 123.8L277 130.2L270.4 130.2Z" stroke="#111" stroke-width="0" fill="#111"/>
<text x="0" y="0" font-size="8.0" font-weight="bold" text-anchor="middle" fill="#111" transform="translate(277.0 154.9) rotate(-90)" stroke="#111" stroke-width="0.45">FSC</text>
<path d="M272.8 199.1L322.8 199.1" stroke="#111" stroke-width="1.75" fill="none"/>
<path d="M330.2 199.1L388.2 199.1" stroke="#111" stroke-width="1.75" fill="none"/>
<text x="394.9" y="200.5" font-size="8.2" font-weight="bold" fill="#111" stroke="#111" stroke-width="0.25">EGFP</text>
<path d="M421.4 199.1L478.2 199.1" stroke="#111" stroke-width="1.75" fill="none"/>
<path d="M485.4 199.1L511.7 199.1" stroke="#111" stroke-width="1.75" fill="none"/>
<path d="M517.6 199.1L511.2 202.4L511.2 195.8Z" stroke="#111" stroke-width="0" fill="#111"/>
<path d="M340.4 172.3L323.1 206.1" stroke="#111" stroke-width="1.5" fill="none"/>
<path d="M320.4 211.4L320.4 204.2L326.3 207.2Z" stroke="#111" stroke-width="0" fill="#111"/>
<path d="M420 172.3L409.4 192.1" stroke="#111" stroke-width="1.5" fill="none"/>
<path d="M403.9 202.4L401.6 206.7" stroke="#111" stroke-width="1.5" fill="none"/>
<path d="M398.8 211.9L398.9 204.7L404.7 207.8Z" stroke="#111" stroke-width="0" fill="#111"/>
<path d="M496.6 172.3L478.2 206.2" stroke="#111" stroke-width="1.5" fill="none"/>
<path d="M475.4 211.4L475.5 204.2L481.4 207.3Z" stroke="#111" stroke-width="0" fill="#111"/>
<text x="282" y="274" font-size="5.2" fill="#383838">10<tspan dy="-1.7" font-size="5.4">0</tspan></text>
<text x="282" y="260.9" font-size="5.2" fill="#383838">10<tspan dy="-1.7" font-size="5.4">1</tspan></text>
<text x="282" y="247.1" font-size="5.2" fill="#383838">10<tspan dy="-1.7" font-size="5.4">2</tspan></text>
<text x="282" y="232.9" font-size="5.2" fill="#383838">10<tspan dy="-1.7" font-size="5.4">3</tspan></text>
<text x="282" y="219.8" font-size="5.2" fill="#383838">10<tspan dy="-1.7" font-size="5.4">4</tspan></text>
<text x="288.9" y="282.6" font-size="5.2" fill="#383838">10<tspan dy="-1.7" font-size="5.4">0</tspan></text>
<text x="305" y="282.6" font-size="5.2" fill="#383838">10<tspan dy="-1.7" font-size="5.4">1</tspan></text>
<text x="320.1" y="282.6" font-size="5.2" fill="#383838">10<tspan dy="-1.7" font-size="5.4">2</tspan></text>
<text x="337.5" y="282.6" font-size="5.2" fill="#383838">10<tspan dy="-1.7" font-size="5.4">3</tspan></text>
<text x="350.6" y="282.6" font-size="5.2" fill="#383838">10<tspan dy="-1.7" font-size="5.4">4</tspan></text>
<g clip-path="url(#c13)"><g filter="url(#gr)">
<rect x="287.5" y="212.6" width="72.7" height="65.6" fill="#000" fill-opacity="0"/>
<ellipse cx="302.5" cy="236.5" rx="11" ry="8.1" fill="url(#g13_0)"/>
<ellipse cx="305" cy="237" rx="19.3" ry="9.7" fill="url(#g13_1)"/>
<ellipse cx="304.5" cy="265.5" rx="23.2" ry="18.5" fill="url(#g13_2)"/>
<ellipse cx="308" cy="262" rx="24.2" ry="19.3" fill="url(#g13_3)"/>
</g></g>
<rect x="292.5" y="217.6" width="62.7" height="55.6" fill="none" stroke="#111" stroke-width="1.35"/>
<rect x="292.5" y="225" width="31.2" height="22.3" fill="none" stroke="#111" stroke-width="1.2"/>
<text x="333" y="245.2" font-size="7.15" font-weight="bold" text-anchor="middle" fill="#111" stroke="#111" stroke-width="0.25">15.1</text>
<text x="360.1" y="274" font-size="5.2" fill="#383838">10<tspan dy="-1.7" font-size="5.4">0</tspan></text>
<text x="360.1" y="260.9" font-size="5.2" fill="#383838">10<tspan dy="-1.7" font-size="5.4">1</tspan></text>
<text x="360.1" y="247.1" font-size="5.2" fill="#383838">10<tspan dy="-1.7" font-size="5.4">2</tspan></text>
<text x="360.1" y="232.9" font-size="5.2" fill="#383838">10<tspan dy="-1.7" font-size="5.4">3</tspan></text>
<text x="360.1" y="219.8" font-size="5.2" fill="#383838">10<tspan dy="-1.7" font-size="5.4">4</tspan></text>
<text x="367" y="282.6" font-size="5.2" fill="#383838">10<tspan dy="-1.7" font-size="5.4">0</tspan></text>
<text x="383.1" y="282.6" font-size="5.2" fill="#383838">10<tspan dy="-1.7" font-size="5.4">1</tspan></text>
<text x="398.2" y="282.6" font-size="5.2" fill="#383838">10<tspan dy="-1.7" font-size="5.4">2</tspan></text>
<text x="415.6" y="282.6" font-size="5.2" fill="#383838">10<tspan dy="-1.7" font-size="5.4">3</tspan></text>
<text x="428.7" y="282.6" font-size="5.2" fill="#383838">10<tspan dy="-1.7" font-size="5.4">4</tspan></text>
<g clip-path="url(#c14)"><g filter="url(#gr)">
<rect x="365.6" y="212.6" width="73.1" height="65.6" fill="#000" fill-opacity="0"/>
<ellipse cx="387.5" cy="236.5" rx="6.5" ry="6.5" fill="url(#g14_0)"/>
<ellipse cx="386.5" cy="238" rx="11.2" ry="11.2" fill="url(#g14_1)"/>
<ellipse cx="386.5" cy="268.5" rx="15.1" ry="19.7" fill="url(#g14_2)"/>
<ellipse cx="387" cy="261" rx="15.5" ry="24.6" fill="url(#g14_3)"/>
<ellipse cx="388" cy="272" rx="21.5" ry="6.7" fill="url(#g14_4)"/>
</g></g>
<rect x="370.6" y="217.6" width="63.1" height="55.6" fill="none" stroke="#111" stroke-width="1.35"/>
<rect x="370.6" y="225" width="31.8" height="22.3" fill="none" stroke="#111" stroke-width="1.2"/>
<text x="410" y="245.2" font-size="7.15" font-weight="bold" text-anchor="middle" fill="#111" stroke="#111" stroke-width="0.25">9.5</text>
<text x="438.4" y="274" font-size="5.2" fill="#383838">10<tspan dy="-1.7" font-size="5.4">0</tspan></text>
<text x="438.4" y="260.9" font-size="5.2" fill="#383838">10<tspan dy="-1.7" font-size="5.4">1</tspan></text>
<text x="438.4" y="247.1" font-size="5.2" fill="#383838">10<tspan dy="-1.7" font-size="5.4">2</tspan></text>
<text x="438.4" y="232.9" font-size="5.2" fill="#383838">10<tspan dy="-1.7" font-size="5.4">3</tspan></text>
<text x="438.4" y="219.8" font-size="5.2" fill="#383838">10<tspan dy="-1.7" font-size="5.4">4</tspan></text>
<text x="445.3" y="282.6" font-size="5.2" fill="#383838">10<tspan dy="-1.7" font-size="5.4">0</tspan></text>
<text x="461.4" y="282.6" font-size="5.2" fill="#383838">10<tspan dy="-1.7" font-size="5.4">1</tspan></text>
<text x="476.5" y="282.6" font-size="5.2" fill="#383838">10<tspan dy="-1.7" font-size="5.4">2</tspan></text>
<text x="493.9" y="282.6" font-size="5.2" fill="#383838">10<tspan dy="-1.7" font-size="5.4">3</tspan></text>
<text x="507" y="282.6" font-size="5.2" fill="#383838">10<tspan dy="-1.7" font-size="5.4">4</tspan></text>
<g clip-path="url(#c15)"><g filter="url(#gr)">
<rect x="443.9" y="212.6" width="73.3" height="65.6" fill="#000" fill-opacity="0"/>
<ellipse cx="464" cy="237.5" rx="14.7" ry="10.2" fill="url(#g15_0)"/>
<ellipse cx="466" cy="238" rx="19.3" ry="10.8" fill="url(#g15_1)"/>
<ellipse cx="464" cy="268" rx="14.6" ry="11.4" fill="url(#g15_2)"/>
<ellipse cx="464" cy="258" rx="13.8" ry="22.5" fill="url(#g15_3)"/>
<ellipse cx="465" cy="270" rx="19.3" ry="7.3" fill="url(#g15_4)"/>
</g></g>
<rect x="448.9" y="217.6" width="63.3" height="55.6" fill="none" stroke="#111" stroke-width="1.35"/>
<rect x="448.9" y="225" width="31.7" height="22.3" fill="none" stroke="#111" stroke-width="1.2"/>
<text x="490.2" y="245.2" font-size="7.15" font-weight="bold" text-anchor="middle" fill="#111" stroke="#111" stroke-width="0.25">35.1</text>
<path d="M275.6 291.4L275.6 265.7" stroke="#111" stroke-width="1.75" fill="none"/>
<path d="M275.6 238.1L275.6 221.9" stroke="#111" stroke-width="1.75" fill="none"/>
<path d="M275.6 216L278.9 222.4L272.3 222.4Z" stroke="#111" stroke-width="0" fill="#111"/>
<text x="0" y="0" font-size="8.2" font-weight="bold" text-anchor="middle" fill="#111" transform="translate(277.6 252.2) rotate(-90)" stroke="#111" stroke-width="0.45">CD56</text>
<path d="M274.7 291.4L389.6 291.4" stroke="#111" stroke-width="1.75" fill="none"/>
<text x="393.9" y="294.3" font-size="8.4" font-weight="bold" fill="#111" stroke="#111" stroke-width="0.25">CD3</text>
<path d="M414.8 291.4L513.1 291.4" stroke="#111" stroke-width="1.75" fill="none"/>
<path d="M519 291.4L512.6 294.7L512.6 288.1Z" stroke="#111" stroke-width="0" fill="#111"/>
<rect x="27.9" y="322.9" width="84.8" height="85.2" fill="none" stroke="#1c1c1c" stroke-width="1.15"/>
<path d="M26.3 408.1L29.3 408.1" stroke="#1c1c1c" stroke-width="0.9" fill="none"/>
<text x="23.2" y="410.1" font-size="5.5" font-weight="bold" text-anchor="end" fill="#262626" stroke="#262626" stroke-width="0.15">0</text>
<path d="M26.3 393.9L29.3 393.9" stroke="#1c1c1c" stroke-width="0.9" fill="none"/>
<text x="23.2" y="395.9" font-size="5.5" font-weight="bold" text-anchor="end" fill="#262626" stroke="#262626" stroke-width="0.15">5</text>
<path d="M26.3 379.7L29.3 379.7" stroke="#1c1c1c" stroke-width="0.9" fill="none"/>
<text x="23.2" y="381.7" font-size="5.5" font-weight="bold" text-anchor="end" fill="#262626" stroke="#262626" stroke-width="0.15">10</text>
<path d="M26.3 365.5L29.3 365.5" stroke="#1c1c1c" stroke-width="0.9" fill="none"/>
<text x="23.2" y="367.5" font-size="5.5" font-weight="bold" text-anchor="end" fill="#262626" stroke="#262626" stroke-width="0.15">15</text>
<path d="M26.3 351.3L29.3 351.3" stroke="#1c1c1c" stroke-width="0.9" fill="none"/>
<text x="23.2" y="353.3" font-size="5.5" font-weight="bold" text-anchor="end" fill="#262626" stroke="#262626" stroke-width="0.15">20</text>
<path d="M26.3 337.1L29.3 337.1" stroke="#1c1c1c" stroke-width="0.9" fill="none"/>
<text x="23.2" y="339.1" font-size="5.5" font-weight="bold" text-anchor="end" fill="#262626" stroke="#262626" stroke-width="0.15">25</text>
<path d="M26.3 322.9L29.3 322.9" stroke="#1c1c1c" stroke-width="0.9" fill="none"/>
<text x="23.2" y="324.9" font-size="5.5" font-weight="bold" text-anchor="end" fill="#262626" stroke="#262626" stroke-width="0.15">30</text>
<text x="39.3" y="420.3" font-size="8.2" font-weight="bold" text-anchor="middle" fill="#111" stroke="#111" stroke-width="0.25">LIE</text>
<text x="70.3" y="420.3" font-size="8.2" font-weight="bold" text-anchor="middle" fill="#111" stroke="#111" stroke-width="0.25">HES-1</text>
<text x="101.2" y="420.3" font-size="8.2" font-weight="bold" text-anchor="middle" fill="#111" stroke="#111" stroke-width="0.25">ICN</text>
<text font-size="7.0" font-weight="bold" text-anchor="middle" fill="#111" stroke="#111" stroke-width="0.3" transform="translate(12.3 364.2) rotate(-90)">% CD19<tspan dy="-3.3" font-size="5">+</tspan><tspan dy="3.3">HLA-DR</tspan><tspan dy="-3.3" font-size="5">+</tspan></text>
<path d="M39.3 332.6L39.3 329.3L101.2 329.3L101.2 332.6" stroke="#151515" stroke-width="1.25" fill="none"/>
<text x="70.8" y="328.6" font-size="4.5" font-weight="bold" text-anchor="middle" fill="#222" font-style="italic">P = .022</text>
<path d="M39.3 340.5L39.3 337.2L70.3 337.2L70.3 340.5" stroke="#151515" stroke-width="1.25" fill="none"/>
<text x="55.4" y="336.5" font-size="4.5" font-weight="bold" text-anchor="middle" fill="#222" font-style="italic">P = .021</text>
<path d="M39.3 347.6L41.5 351.7L37.1 351.7Z" stroke="#111" stroke-width="0" fill="#111"/>
<path d="M37.9 367.8l2.9 2.9M37.9 370.6l2.9 -2.9" stroke="#111" stroke-width="1.2" fill="none"/>
<path d="M39.3 372L41.6 374.3L39.3 376.6L37 374.3Z" stroke="#111" stroke-width="0" fill="#111"/>
<rect x="32.7" y="374.9" width="13.2" height="2.7" fill="#111"/>
<rect x="37.6" y="387.3" width="3.5" height="3.5" fill="#111"/>
<circle cx="39.3" cy="399.9" r="1.5" fill="#fff" stroke="#111" stroke-width="1.15"/>
<path d="M70.3 369.5L72.5 373.6L68.1 373.6Z" stroke="#111" stroke-width="0" fill="#111"/>
<path d="M68.9 386.8l2.9 2.9M68.9 389.7l2.9 -2.9" stroke="#111" stroke-width="1.2" fill="none"/>
<path d="M70.3 387.4L72.6 389.6L70.3 391.9L68 389.6Z" stroke="#111" stroke-width="0" fill="#111"/>
<rect x="63.7" y="390.1" width="13.2" height="2.7" fill="#111"/>
<rect x="68.6" y="393.3" width="3.5" height="3.5" fill="#111"/>
<circle cx="70.3" cy="406.5" r="1.5" fill="#fff" stroke="#111" stroke-width="1.15"/>
<path d="M101.2 404.4L103.5 406.7L101.2 408.9L98.9 406.7Z" stroke="#111" stroke-width="0" fill="#111"/>
<rect x="94.6" y="405.6" width="13.2" height="2.7" fill="#111"/>
<rect x="152.5" y="322.9" width="85" height="85.2" fill="none" stroke="#1c1c1c" stroke-width="1.15"/>
<path d="M150.9 408.1L153.9 408.1" stroke="#1c1c1c" stroke-width="0.9" fill="none"/>
<text x="147.8" y="410.1" font-size="5.5" font-weight="bold" text-anchor="end" fill="#262626" stroke="#262626" stroke-width="0.15">0</text>
<path d="M150.9 393.9L153.9 393.9" stroke="#1c1c1c" stroke-width="0.9" fill="none"/>
<text x="147.8" y="395.9" font-size="5.5" font-weight="bold" text-anchor="end" fill="#262626" stroke="#262626" stroke-width="0.15">10</text>
<path d="M150.9 379.7L153.9 379.7" stroke="#1c1c1c" stroke-width="0.9" fill="none"/>
<text x="147.8" y="381.7" font-size="5.5" font-weight="bold" text-anchor="end" fill="#262626" stroke="#262626" stroke-width="0.15">20</text>
<path d="M150.9 365.5L153.9 365.5" stroke="#1c1c1c" stroke-width="0.9" fill="none"/>
<text x="147.8" y="367.5" font-size="5.5" font-weight="bold" text-anchor="end" fill="#262626" stroke="#262626" stroke-width="0.15">30</text>
<path d="M150.9 351.3L153.9 351.3" stroke="#1c1c1c" stroke-width="0.9" fill="none"/>
<text x="147.8" y="353.3" font-size="5.5" font-weight="bold" text-anchor="end" fill="#262626" stroke="#262626" stroke-width="0.15">40</text>
<path d="M150.9 337.1L153.9 337.1" stroke="#1c1c1c" stroke-width="0.9" fill="none"/>
<text x="147.8" y="339.1" font-size="5.5" font-weight="bold" text-anchor="end" fill="#262626" stroke="#262626" stroke-width="0.15">50</text>
<path d="M150.9 322.9L153.9 322.9" stroke="#1c1c1c" stroke-width="0.9" fill="none"/>
<text x="147.8" y="324.9" font-size="5.5" font-weight="bold" text-anchor="end" fill="#262626" stroke="#262626" stroke-width="0.15">60</text>
<text x="164.3" y="420.3" font-size="8.2" font-weight="bold" text-anchor="middle" fill="#111" stroke="#111" stroke-width="0.25">LIE</text>
<text x="195.1" y="420.3" font-size="8.2" font-weight="bold" text-anchor="middle" fill="#111" stroke="#111" stroke-width="0.25">HES-1</text>
<text x="225.9" y="420.3" font-size="8.2" font-weight="bold" text-anchor="middle" fill="#111" stroke="#111" stroke-width="0.25">ICN</text>
<text font-size="6.9" font-weight="bold" text-anchor="middle" fill="#111" stroke="#111" stroke-width="0.3" transform="translate(137.2 363) rotate(-90)">No. CD19<tspan dy="-3.3" font-size="5">+</tspan><tspan dy="3.3">HLA-DR</tspan><tspan dy="-3.3" font-size="5">+</tspan><tspan dy="3.3"> (&#215; 10</tspan><tspan dy="-3.3" font-size="5">3</tspan><tspan dy="3.3">)</tspan></text>
<path d="M164.3 332.6L164.3 329.3L225.9 329.3L225.9 332.6" stroke="#151515" stroke-width="1.25" fill="none"/>
<text x="195.7" y="328.6" font-size="4.5" font-weight="bold" text-anchor="middle" fill="#222" font-style="italic">P = .038</text>
<path d="M164.3 340.5L164.3 337.2L195.1 337.2L195.1 340.5" stroke="#151515" stroke-width="1.25" fill="none"/>
<text x="180.3" y="336.5" font-size="4.5" font-weight="bold" text-anchor="middle" fill="#222" font-style="italic">P = .031</text>
<path d="M164.3 346.2L166.5 350.3L162.1 350.3Z" stroke="#111" stroke-width="0" fill="#111"/>
<path d="M162.9 361.9l2.9 2.9M162.9 364.8l2.9 -2.9" stroke="#111" stroke-width="1.2" fill="none"/>
<rect x="157.7" y="375.9" width="13.2" height="2.7" fill="#111"/>
<path d="M164.3 383.8L166.6 386.1L164.3 388.3L162 386.1Z" stroke="#111" stroke-width="0" fill="#111"/>
<circle cx="164.3" cy="390.6" r="1.5" fill="#fff" stroke="#111" stroke-width="1.15"/>
<rect x="162.6" y="395.4" width="3.5" height="3.5" fill="#111"/>
<path d="M195.1 393.5L197.3 397.6L192.9 397.6Z" stroke="#111" stroke-width="0" fill="#111"/>
<rect x="188.5" y="401.5" width="13.2" height="2.7" fill="#111"/>
<circle cx="195.1" cy="406.4" r="1.5" fill="#fff" stroke="#111" stroke-width="1.15"/>
<rect x="193.4" y="402.8" width="3.5" height="3.5" fill="#111"/>
<path d="M225.9 395.6L228.1 399.7L223.7 399.7Z" stroke="#111" stroke-width="0" fill="#111"/>
<rect x="219.3" y="402.2" width="13.2" height="2.7" fill="#111"/>
<rect x="224.2" y="402.1" width="3.5" height="3.5" fill="#111"/>
<path d="M225.9 400.2L228.2 402.4L225.9 404.7L223.6 402.4Z" stroke="#111" stroke-width="0" fill="#111"/>
<path d="M225.9 402.7L228.2 405L225.9 407.2L223.6 405Z" stroke="#111" stroke-width="0" fill="#111"/>
<rect x="295.4" y="322.9" width="84.1" height="85.2" fill="none" stroke="#1c1c1c" stroke-width="1.15"/>
<path d="M293.8 408.1L296.8 408.1" stroke="#1c1c1c" stroke-width="0.9" fill="none"/>
<text x="290.7" y="410.1" font-size="5.5" font-weight="bold" text-anchor="end" fill="#262626" stroke="#262626" stroke-width="0.15">0</text>
<path d="M293.8 393.9L296.8 393.9" stroke="#1c1c1c" stroke-width="0.9" fill="none"/>
<text x="290.7" y="395.9" font-size="5.5" font-weight="bold" text-anchor="end" fill="#262626" stroke="#262626" stroke-width="0.15">10</text>
<path d="M293.8 379.7L296.8 379.7" stroke="#1c1c1c" stroke-width="0.9" fill="none"/>
<text x="290.7" y="381.7" font-size="5.5" font-weight="bold" text-anchor="end" fill="#262626" stroke="#262626" stroke-width="0.15">20</text>
<path d="M293.8 365.5L296.8 365.5" stroke="#1c1c1c" stroke-width="0.9" fill="none"/>
<text x="290.7" y="367.5" font-size="5.5" font-weight="bold" text-anchor="end" fill="#262626" stroke="#262626" stroke-width="0.15">30</text>
<path d="M293.8 351.3L296.8 351.3" stroke="#1c1c1c" stroke-width="0.9" fill="none"/>
<text x="290.7" y="353.3" font-size="5.5" font-weight="bold" text-anchor="end" fill="#262626" stroke="#262626" stroke-width="0.15">40</text>
<path d="M293.8 337.1L296.8 337.1" stroke="#1c1c1c" stroke-width="0.9" fill="none"/>
<text x="290.7" y="339.1" font-size="5.5" font-weight="bold" text-anchor="end" fill="#262626" stroke="#262626" stroke-width="0.15">50</text>
<path d="M293.8 322.9L296.8 322.9" stroke="#1c1c1c" stroke-width="0.9" fill="none"/>
<text x="290.7" y="324.9" font-size="5.5" font-weight="bold" text-anchor="end" fill="#262626" stroke="#262626" stroke-width="0.15">60</text>
<text x="306.7" y="420.3" font-size="8.2" font-weight="bold" text-anchor="middle" fill="#111" stroke="#111" stroke-width="0.25">LIE</text>
<text x="337.5" y="420.3" font-size="8.2" font-weight="bold" text-anchor="middle" fill="#111" stroke="#111" stroke-width="0.25">HES-1</text>
<text x="368.4" y="420.3" font-size="8.2" font-weight="bold" text-anchor="middle" fill="#111" stroke="#111" stroke-width="0.25">ICN</text>
<text font-size="7.1" font-weight="bold" text-anchor="middle" fill="#111" stroke="#111" stroke-width="0.3" transform="translate(280 363.3) rotate(-90)">% CD56<tspan dy="-3.3" font-size="5">+</tspan><tspan dy="3.3">CD3</tspan><tspan dy="-3.3" font-size="5">-</tspan></text>
<path d="M306.7 332.6L306.7 329.3L368.4 329.3L368.4 332.6" stroke="#151515" stroke-width="1.25" fill="none"/>
<text x="338.1" y="328.6" font-size="4.5" font-weight="bold" text-anchor="middle" fill="#222" font-style="italic">P = .034</text>
<path d="M306.7 378.3L306.7 375L337.5 375L337.5 378.3" stroke="#151515" stroke-width="1.25" fill="none"/>
<text x="322.7" y="374.3" font-size="4.5" font-weight="bold" text-anchor="middle" fill="#222">N.S.</text>
<path d="M306.7 384.3L308.9 388.4L304.5 388.4Z" stroke="#111" stroke-width="0" fill="#111"/>
<rect x="305" y="387.3" width="3.5" height="3.5" fill="#111"/>
<rect x="300.1" y="394.3" width="13.2" height="2.7" fill="#111"/>
<rect x="305" y="399" width="3.5" height="3.5" fill="#111"/>
<path d="M306.7 401L309 403.3L306.7 405.5L304.4 403.3Z" stroke="#111" stroke-width="0" fill="#111"/>
<circle cx="337.5" cy="393.9" r="1.5" fill="#fff" stroke="#111" stroke-width="1.15"/>
<path d="M337.5 394.5L339.7 398.6L335.3 398.6Z" stroke="#111" stroke-width="0" fill="#111"/>
<rect x="330.9" y="398.8" width="13.2" height="2.7" fill="#111"/>
<path d="M336.1 398.9l2.9 2.9M336.1 401.7l2.9 -2.9" stroke="#111" stroke-width="1.2" fill="none"/>
<rect x="335.8" y="400" width="3.5" height="3.5" fill="#111"/>
<path d="M337.5 401.6L339.8 403.8L337.5 406.1L335.2 403.8Z" stroke="#111" stroke-width="0" fill="#111"/>
<path d="M367 337.8l2.9 2.9M367 340.7l2.9 -2.9" stroke="#111" stroke-width="1.2" fill="none"/>
<circle cx="368.4" cy="358.4" r="1.5" fill="#fff" stroke="#111" stroke-width="1.15"/>
<rect x="361.8" y="364.9" width="13.2" height="2.7" fill="#111"/>
<path d="M368.4 371.8L370.6 375.9L366.2 375.9Z" stroke="#111" stroke-width="0" fill="#111"/>
<path d="M368.4 374.6L370.7 376.9L368.4 379.1L366.1 376.9Z" stroke="#111" stroke-width="0" fill="#111"/>
<rect x="366.7" y="384.6" width="3.5" height="3.5" fill="#111"/>
<rect x="419.7" y="322.9" width="84.8" height="85.2" fill="none" stroke="#1c1c1c" stroke-width="1.15"/>
<path d="M418.1 408.1L421.1 408.1" stroke="#1c1c1c" stroke-width="0.9" fill="none"/>
<text x="415" y="410.1" font-size="5.5" font-weight="bold" text-anchor="end" fill="#262626" stroke="#262626" stroke-width="0.15">0</text>
<path d="M418.1 397.5L421.1 397.5" stroke="#1c1c1c" stroke-width="0.9" fill="none"/>
<text x="415" y="399.5" font-size="5.5" font-weight="bold" text-anchor="end" fill="#262626" stroke="#262626" stroke-width="0.15">20</text>
<path d="M418.1 386.8L421.1 386.8" stroke="#1c1c1c" stroke-width="0.9" fill="none"/>
<text x="415" y="388.8" font-size="5.5" font-weight="bold" text-anchor="end" fill="#262626" stroke="#262626" stroke-width="0.15">40</text>
<path d="M418.1 376.1L421.1 376.1" stroke="#1c1c1c" stroke-width="0.9" fill="none"/>
<text x="415" y="378.1" font-size="5.5" font-weight="bold" text-anchor="end" fill="#262626" stroke="#262626" stroke-width="0.15">60</text>
<path d="M418.1 365.5L421.1 365.5" stroke="#1c1c1c" stroke-width="0.9" fill="none"/>
<text x="415" y="367.5" font-size="5.5" font-weight="bold" text-anchor="end" fill="#262626" stroke="#262626" stroke-width="0.15">80</text>
<path d="M418.1 354.9L421.1 354.9" stroke="#1c1c1c" stroke-width="0.9" fill="none"/>
<text x="415" y="356.9" font-size="5.5" font-weight="bold" text-anchor="end" fill="#262626" stroke="#262626" stroke-width="0.15">100</text>
<path d="M418.1 344.2L421.1 344.2" stroke="#1c1c1c" stroke-width="0.9" fill="none"/>
<text x="415" y="346.2" font-size="5.5" font-weight="bold" text-anchor="end" fill="#262626" stroke="#262626" stroke-width="0.15">120</text>
<path d="M418.1 333.5L421.1 333.5" stroke="#1c1c1c" stroke-width="0.9" fill="none"/>
<text x="415" y="335.5" font-size="5.5" font-weight="bold" text-anchor="end" fill="#262626" stroke="#262626" stroke-width="0.15">140</text>
<path d="M418.1 322.9L421.1 322.9" stroke="#1c1c1c" stroke-width="0.9" fill="none"/>
<text x="415" y="324.9" font-size="5.5" font-weight="bold" text-anchor="end" fill="#262626" stroke="#262626" stroke-width="0.15">160</text>
<text x="431.5" y="420.3" font-size="8.2" font-weight="bold" text-anchor="middle" fill="#111" stroke="#111" stroke-width="0.25">LIE</text>
<text x="462" y="420.3" font-size="8.2" font-weight="bold" text-anchor="middle" fill="#111" stroke="#111" stroke-width="0.25">HES-1</text>
<text x="492.9" y="420.3" font-size="8.2" font-weight="bold" text-anchor="middle" fill="#111" stroke="#111" stroke-width="0.25">ICN</text>
<text font-size="7.3" font-weight="bold" text-anchor="middle" fill="#111" stroke="#111" stroke-width="0.3" transform="translate(402.6 365.2) rotate(-90)">No. CD56<tspan dy="-3.3" font-size="5">+</tspan><tspan dy="3.3">CD3</tspan><tspan dy="-3.3" font-size="5">-</tspan><tspan dy="3.3"> (&#215; 10</tspan><tspan dy="-3.3" font-size="5">3</tspan><tspan dy="3.3">)</tspan></text>
<path d="M431.5 331.6L431.5 328.3L492.9 328.3L492.9 331.6" stroke="#151515" stroke-width="1.25" fill="none"/>
<text x="462.8" y="327.6" font-size="4.5" font-weight="bold" text-anchor="middle" fill="#222">N.S.</text>
<path d="M431.5 368.9L431.5 365.6L462 365.6L462 368.9" stroke="#151515" stroke-width="1.25" fill="none"/>
<text x="447.4" y="364.9" font-size="4.5" font-weight="bold" text-anchor="middle" fill="#222">N.S.</text>
<circle cx="431.5" cy="377.2" r="1.5" fill="#fff" stroke="#111" stroke-width="1.15"/>
<path d="M431.5 391.5L433.7 395.6L429.3 395.6Z" stroke="#111" stroke-width="0" fill="#111"/>
<rect x="424.9" y="395.3" width="13.2" height="2.7" fill="#111"/>
<rect x="429.8" y="402.4" width="3.5" height="3.5" fill="#111"/>
<path d="M431.5 403.2L433.8 405.4L431.5 407.7L429.2 405.4Z" stroke="#111" stroke-width="0" fill="#111"/>
<circle cx="462" cy="399.6" r="1.5" fill="#fff" stroke="#111" stroke-width="1.15"/>
<rect x="455.4" y="403.8" width="13.2" height="2.7" fill="#111"/>
<rect x="460.3" y="404.2" width="3.5" height="3.5" fill="#111"/>
<path d="M462 404.8L464.3 407L462 409.3L459.7 407Z" stroke="#111" stroke-width="0" fill="#111"/>
<circle cx="492.9" cy="334.6" r="1.5" fill="#fff" stroke="#111" stroke-width="1.15"/>
<path d="M491.5 361.4l2.9 2.9M491.5 364.3l2.9 -2.9" stroke="#111" stroke-width="1.2" fill="none"/>
<rect x="486.3" y="375.3" width="13.2" height="2.7" fill="#111"/>
<path d="M492.9 387.2L495.1 391.3L490.7 391.3Z" stroke="#111" stroke-width="0" fill="#111"/>
<rect x="491.2" y="396.2" width="3.5" height="3.5" fill="#111"/>
<path d="M492.9 397.3L495.2 399.6L492.9 401.8L490.6 399.6Z" stroke="#111" stroke-width="0" fill="#111"/></svg></body></html>
